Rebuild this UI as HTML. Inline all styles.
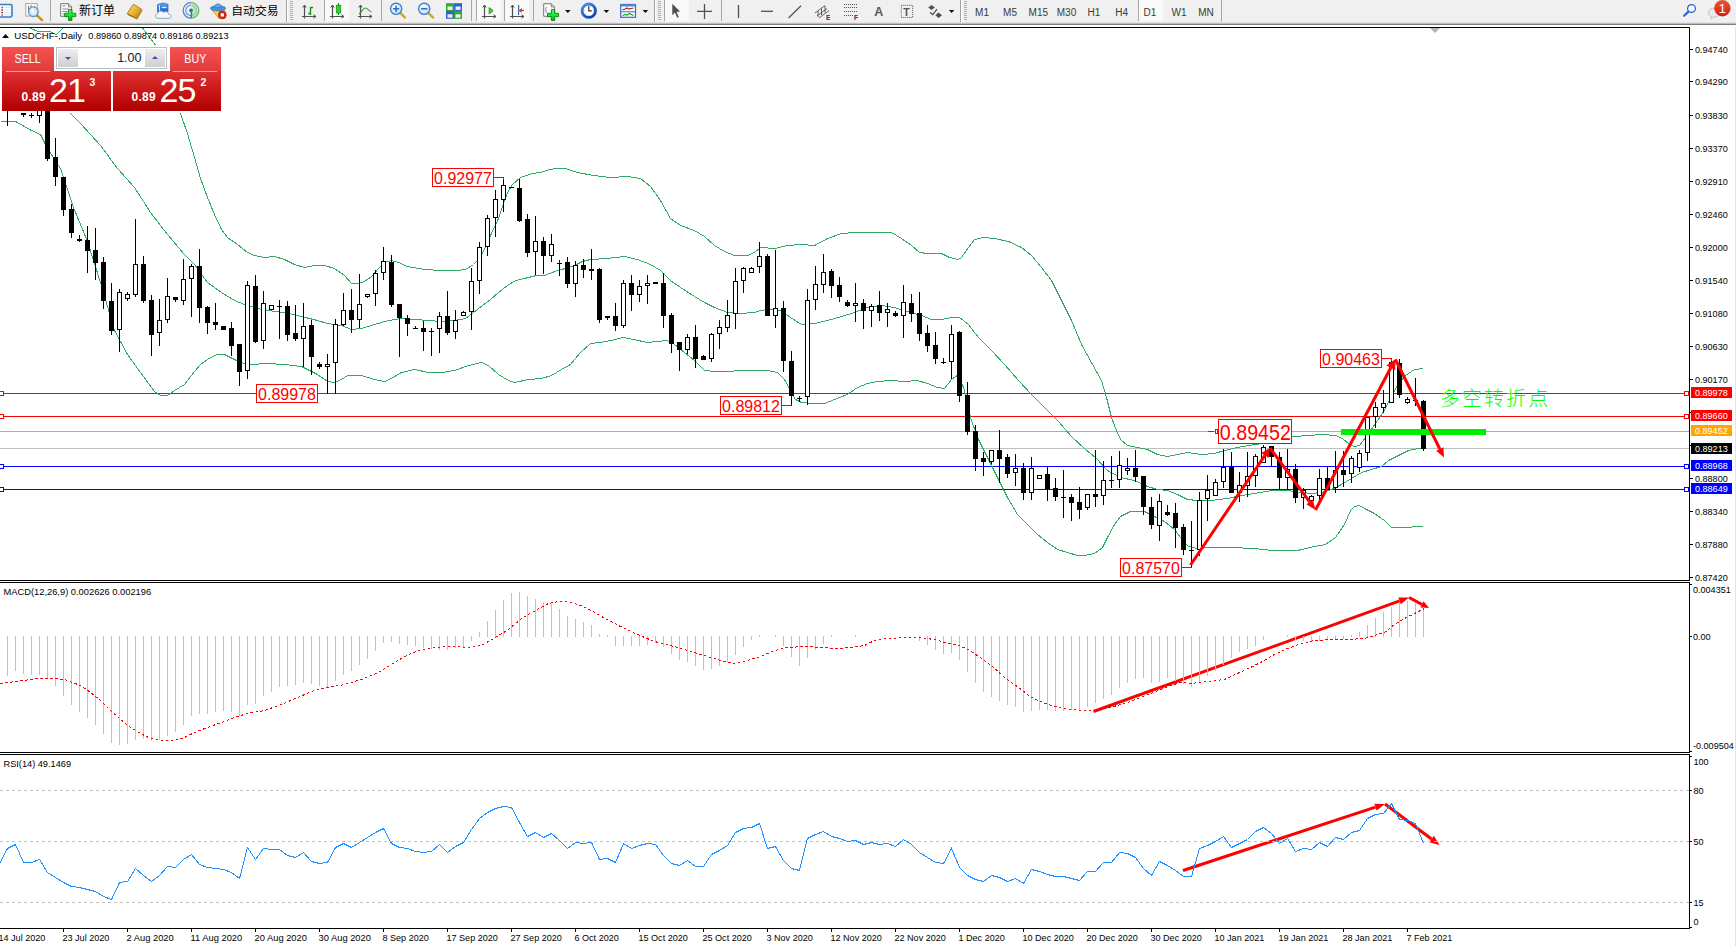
<!DOCTYPE html>
<html><head><meta charset="utf-8"><title>USDCHF Daily</title>
<style>
html,body{margin:0;padding:0;background:#fff;}
body{width:1736px;height:946px;overflow:hidden;position:relative;font-family:"Liberation Sans","Noto Sans CJK SC",sans-serif;}
#chart{position:absolute;left:0;top:0;}
#chart text{font-family:"Liberation Sans","Noto Sans CJK SC",sans-serif;}
#tb{position:absolute;left:0;top:0;width:1736px;height:27px;}
#tb text{font-family:"Liberation Sans","Noto Sans CJK SC",sans-serif;}
#wg{position:absolute;left:0;top:0;width:230px;height:115px;}
#wg .tab{position:absolute;top:47px;height:25px;background:linear-gradient(#f65252,#e23a3a);color:#fff;font-size:12px;text-align:center;line-height:24.5px;}
#wg .tab span{display:inline-block;transform:scaleX(0.89);}
#wg .blk{position:absolute;top:71px;height:40px;background:linear-gradient(#de3333,#c81414 55%,#b00000);}
#wg .hl{position:absolute;top:71px;height:1px;background:#f79a9a;}
#wg .inp{position:absolute;left:56px;top:47px;width:109px;height:20px;background:#fff;border:1px solid #b8bcc4;box-sizing:content-box;}
#wg .inp .b{position:absolute;top:1px;width:20px;height:18px;background:linear-gradient(#eeeeee,#cfcfcf);border-left:0;}
#wg .inp .b i{position:absolute;left:7px;width:0;height:0;border-left:3px solid transparent;border-right:3px solid transparent;}
#wg .inp .b i.dn{top:8px;border-top:3px solid #3a55b4;}
#wg .inp .b i.up{top:7px;border-bottom:3px solid #3a55b4;}
#wg .inp .v{position:absolute;right:24.5px;top:2.5px;font-size:12.5px;color:#111a33;line-height:14px;}
#wg .s{position:absolute;top:91.2px;letter-spacing:0.3px;font-size:12px;font-weight:bold;color:#fff;line-height:13px;}
#wg .L{position:absolute;top:72px;font-size:34px;color:#fff;line-height:36px;letter-spacing:-1px;}
#wg .p{position:absolute;top:76px;font-size:10.5px;font-weight:bold;color:#fff;line-height:12px;}

</style></head><body>
<svg id="chart" width="1736" height="946" viewBox="0 0 1736 946">
<g shape-rendering="crispEdges">
<rect x="0" y="393" width="1689" height="1" fill="#ff0000"/>
<rect x="0" y="416" width="1689" height="1" fill="#ff0000"/>
<rect x="0" y="431" width="1689" height="1" fill="#ffa500"/>
<rect x="0" y="448" width="1689" height="1" fill="#c0c0c0"/>
<rect x="0" y="466" width="1689" height="1" fill="#0000ff"/>
<rect x="0" y="489" width="1689" height="1" fill="#0000ff"/>
</g>
<g shape-rendering="crispEdges">
<polyline points="180.5,113.5 187.5,133.5 194.5,157.5 200.5,178.5 207.5,197.5 214.5,214.5 221.5,229.5 227.5,237.5 237.5,244.5 247.5,252.5 254.5,255.5 264.5,257.5 274.5,256.5 284.5,259.5 294.5,264.5 304.5,267.5 314.5,265.5 324.5,265.5 334.5,268.5 344.5,275.5 351.5,283.5 358.5,283.5 364.5,281.5 371.5,276.5 378.5,268.5 384.5,262.5 391.5,260.5 398.5,262.5 407.5,266.5 424.5,269.5 440.5,270.5 457.5,270.5 465.5,269.5 473.5,264.5 477.5,260.5 482.5,253.5 490.5,235.5 498.5,218.5 503.5,203.5 507.5,192.5 512.5,184.5 520.5,177.5 532.5,173.5 540.5,172.5 549.5,169.5 557.5,168.5 565.5,168.5 577.5,172.5 593.5,175.5 610.5,177.5 627.5,176.5 640.5,178.5 650.5,186.5 660.5,200.5 670.5,218.5 680.5,225.5 694.5,230.5 704.5,236.5 714.5,245.5 724.5,251.5 734.5,255.5 747.5,255.5 754.5,252.5 760.5,247.5 774.5,248.5 787.5,245.5 801.5,244.5 814.5,245.5 827.5,238.5 841.5,233.5 854.5,232.5 867.5,232.5 881.5,232.5 891.5,232.5 901.5,238.5 911.5,245.5 919.5,252.5 927.5,253.5 941.5,253.5 949.5,257.5 958.5,259.5 961.5,257.5 968.5,247.5 974.5,239.5 983.5,237.5 994.5,238.5 1008.5,241.5 1021.5,247.5 1031.5,255.5 1041.5,267.5 1051.5,280.5 1061.5,300.5 1071.5,320.5 1081.5,344.5 1091.5,362.5 1101.5,380.5 1106.5,397.5 1111.5,417.5 1116.5,430.5 1120.5,439.5 1127.5,445.5 1137.5,447.5 1147.5,449.5 1157.5,454.5 1167.5,456.5 1177.5,454.5 1187.5,452.5 1201.5,454.5 1214.5,453.5 1224.5,450.5 1237.5,447.5 1254.5,444.5 1264.5,443.5 1280.5,439.5 1294.5,436.5 1308.5,435.5 1321.5,434.5 1335.5,435.5 1342.5,438.5 1349.5,444.5 1354.5,446.5 1359.5,445.5 1365.5,437.5 1375.5,423.5 1384.5,410.5 1390.5,397.5 1397.5,385.5 1405.5,375.5 1414.5,369.5 1423.5,368.5" fill="none" stroke="#31ab67" stroke-width="1" />
<polyline points="70.5,113.5 80.5,123.5 100.5,145.5 117.5,168.5 134.5,187.5 150.5,212.5 167.5,234.5 184.5,254.5 194.5,264.5 207.5,282.5 221.5,292.5 234.5,300.5 244.5,304.5 257.5,308.5 267.5,310.5 284.5,312.5 301.5,316.5 317.5,320.5 327.5,323.5 341.5,325.5 351.5,329.5 361.5,328.5 374.5,324.5 388.5,320.5 401.5,318.5 414.5,319.5 428.5,320.5 441.5,321.5 454.5,320.5 465.5,318.5 473.5,312.5 482.5,305.5 490.5,299.5 498.5,292.5 507.5,285.5 515.5,280.5 524.5,278.5 536.5,275.5 544.5,275.5 549.5,273.5 557.5,270.5 565.5,268.5 574.5,265.5 582.5,261.5 590.5,259.5 607.5,258.5 615.5,257.5 624.5,256.5 637.5,259.5 650.5,264.5 660.5,270.5 670.5,280.5 680.5,287.5 694.5,296.5 704.5,302.5 714.5,307.5 727.5,312.5 740.5,313.5 754.5,312.5 760.5,310.5 767.5,309.5 780.5,310.5 790.5,317.5 801.5,324.5 814.5,323.5 827.5,320.5 841.5,316.5 854.5,312.5 867.5,307.5 881.5,305.5 894.5,307.5 907.5,311.5 921.5,315.5 931.5,319.5 941.5,319.5 951.5,317.5 959.5,317.5 968.5,324.5 978.5,337.5 991.5,350.5 1004.5,364.5 1018.5,380.5 1031.5,394.5 1044.5,407.5 1058.5,421.5 1071.5,436.5 1085.5,449.5 1095.5,457.5 1107.5,470.5 1120.5,477.5 1134.5,480.5 1147.5,486.5 1157.5,489.5 1167.5,490.5 1177.5,494.5 1187.5,499.5 1197.5,500.5 1211.5,500.5 1227.5,498.5 1241.5,495.5 1254.5,493.5 1271.5,490.5 1287.5,490.5 1301.5,492.5 1311.5,493.5 1321.5,492.5 1331.5,489.5 1341.5,484.5 1351.5,478.5 1361.5,472.5 1371.5,469.5 1381.5,466.5 1388.5,460.5 1398.5,455.5 1408.5,450.5 1418.5,448.5 1423.5,447.5" fill="none" stroke="#31ab67" stroke-width="1" />
<polyline points="0.5,121.5 15.5,121.5 31.5,130.5 40.5,134.5 47.5,148.5 60.5,168.5 73.5,207.5 87.5,241.5 100.5,282.5 114.5,330.5 127.5,354.5 140.5,372.5 154.5,391.5 160.5,395.5 167.5,395.5 174.5,390.5 184.5,384.5 194.5,371.5 200.5,364.5 210.5,357.5 217.5,354.5 224.5,354.5 230.5,357.5 240.5,362.5 251.5,364.5 267.5,363.5 284.5,364.5 301.5,366.5 317.5,374.5 327.5,381.5 334.5,382.5 341.5,379.5 347.5,375.5 361.5,375.5 374.5,379.5 384.5,381.5 391.5,378.5 401.5,372.5 414.5,369.5 428.5,372.5 441.5,372.5 454.5,370.5 468.5,365.5 481.5,362.5 488.5,365.5 498.5,374.5 508.5,380.5 514.5,382.5 528.5,379.5 541.5,378.5 551.5,375.5 561.5,369.5 570.5,364.5 580.5,352.5 590.5,343.5 600.5,342.5 610.5,340.5 623.5,337.5 633.5,339.5 647.5,342.5 657.5,341.5 667.5,340.5 674.5,344.5 684.5,352.5 694.5,360.5 704.5,370.5 714.5,371.5 727.5,371.5 740.5,370.5 754.5,370.5 767.5,370.5 777.5,372.5 784.5,379.5 790.5,390.5 795.5,399.5 801.5,402.5 814.5,403.5 824.5,403.5 834.5,399.5 847.5,394.5 857.5,387.5 867.5,383.5 877.5,381.5 891.5,380.5 904.5,381.5 917.5,380.5 927.5,383.5 937.5,387.5 944.5,388.5 951.5,379.5 958.5,374.5 964.5,390.5 970.5,417.5 977.5,437.5 987.5,457.5 997.5,477.5 1007.5,497.5 1017.5,514.5 1027.5,524.5 1037.5,534.5 1047.5,542.5 1057.5,549.5 1067.5,552.5 1077.5,555.5 1084.5,555.5 1094.5,553.5 1102.5,547.5 1107.5,537.5 1114.5,524.5 1120.5,516.5 1130.5,511.5 1144.5,511.5 1154.5,516.5 1164.5,521.5 1174.5,529.5 1180.5,537.5 1188.5,546.5 1197.5,548.5 1211.5,547.5 1230.5,547.5 1254.5,548.5 1272.5,550.5 1297.5,550.5 1314.5,546.5 1325.5,544.5 1335.5,537.5 1344.5,524.5 1350.5,510.5 1354.5,506.5 1359.5,505.5 1364.5,508.5 1374.5,513.5 1384.5,520.5 1391.5,527.5 1400.5,527.5 1423.5,526.5" fill="none" stroke="#31ab67" stroke-width="1" />
<polyline points="30.5,28.5 38.5,31.5 49.5,31.5 56.5,34.5 62.5,28.5" fill="none" stroke="#31ab67" stroke-width="1" />
<polyline points="142.5,28 155.5,45" fill="none" stroke="#31ab67" stroke-width="1" />
</g>
<polygon points="1430,28 1440,28 1435,33" fill="#b4b4b4"/>
<g shape-rendering="crispEdges">
<rect x="7" y="90" width="1" height="36" fill="#000"/>
<rect x="5" y="92" width="5" height="13" fill="#000"/>
<rect x="23" y="113" width="1" height="4" fill="#000"/>
<rect x="21" y="113" width="5" height="2" fill="#000"/>
<rect x="31" y="113" width="1" height="5" fill="#000"/>
<rect x="29" y="115" width="5" height="1" fill="#000"/>
<rect x="39" y="100" width="1" height="23" fill="#000"/>
<rect x="37" y="105" width="5" height="11" fill="#000"/>
<rect x="38" y="106" width="3" height="9" fill="#fff"/>
<rect x="47" y="100" width="1" height="61" fill="#000"/>
<rect x="45" y="100" width="5" height="59" fill="#000"/>
<rect x="55" y="138" width="1" height="48" fill="#000"/>
<rect x="53" y="157" width="5" height="20" fill="#000"/>
<rect x="63" y="177" width="1" height="39" fill="#000"/>
<rect x="61" y="177" width="5" height="33" fill="#000"/>
<rect x="71" y="204" width="1" height="34" fill="#000"/>
<rect x="69" y="209" width="5" height="24" fill="#000"/>
<rect x="79" y="235" width="1" height="7" fill="#000"/>
<rect x="77" y="239" width="5" height="2" fill="#000"/>
<rect x="87" y="226" width="1" height="47" fill="#000"/>
<rect x="85" y="240" width="5" height="11" fill="#000"/>
<rect x="95" y="228" width="1" height="52" fill="#000"/>
<rect x="93" y="250" width="5" height="13" fill="#000"/>
<rect x="103" y="257" width="1" height="52" fill="#000"/>
<rect x="101" y="262" width="5" height="39" fill="#000"/>
<rect x="111" y="283" width="1" height="52" fill="#000"/>
<rect x="109" y="301" width="5" height="30" fill="#000"/>
<rect x="119" y="289" width="1" height="63" fill="#000"/>
<rect x="117" y="292" width="5" height="38" fill="#000"/>
<rect x="118" y="293" width="3" height="36" fill="#fff"/>
<rect x="127" y="292" width="1" height="9" fill="#000"/>
<rect x="125" y="294" width="5" height="5" fill="#000"/>
<rect x="126" y="295" width="3" height="3" fill="#fff"/>
<rect x="135" y="219" width="1" height="78" fill="#000"/>
<rect x="133" y="264" width="5" height="31" fill="#000"/>
<rect x="134" y="265" width="3" height="29" fill="#fff"/>
<rect x="143" y="256" width="1" height="47" fill="#000"/>
<rect x="141" y="264" width="5" height="37" fill="#000"/>
<rect x="151" y="295" width="1" height="61" fill="#000"/>
<rect x="149" y="300" width="5" height="35" fill="#000"/>
<rect x="159" y="299" width="1" height="47" fill="#000"/>
<rect x="157" y="320" width="5" height="13" fill="#000"/>
<rect x="158" y="321" width="3" height="11" fill="#fff"/>
<rect x="167" y="278" width="1" height="45" fill="#000"/>
<rect x="165" y="296" width="5" height="24" fill="#000"/>
<rect x="166" y="297" width="3" height="22" fill="#fff"/>
<rect x="175" y="297" width="1" height="5" fill="#000"/>
<rect x="173" y="297" width="5" height="3" fill="#000"/>
<rect x="183" y="259" width="1" height="46" fill="#000"/>
<rect x="181" y="279" width="5" height="22" fill="#000"/>
<rect x="182" y="280" width="3" height="20" fill="#fff"/>
<rect x="191" y="264" width="1" height="53" fill="#000"/>
<rect x="189" y="266" width="5" height="13" fill="#000"/>
<rect x="190" y="267" width="3" height="11" fill="#fff"/>
<rect x="199" y="249" width="1" height="74" fill="#000"/>
<rect x="197" y="266" width="5" height="42" fill="#000"/>
<rect x="207" y="306" width="1" height="28" fill="#000"/>
<rect x="205" y="307" width="5" height="16" fill="#000"/>
<rect x="215" y="303" width="1" height="27" fill="#000"/>
<rect x="213" y="322" width="5" height="3" fill="#000"/>
<rect x="223" y="326" width="1" height="4" fill="#000"/>
<rect x="221" y="326" width="5" height="4" fill="#000"/>
<rect x="231" y="322" width="1" height="34" fill="#000"/>
<rect x="229" y="328" width="5" height="18" fill="#000"/>
<rect x="239" y="344" width="1" height="42" fill="#000"/>
<rect x="237" y="344" width="5" height="28" fill="#000"/>
<rect x="247" y="281" width="1" height="98" fill="#000"/>
<rect x="245" y="285" width="5" height="86" fill="#000"/>
<rect x="246" y="286" width="3" height="84" fill="#fff"/>
<rect x="255" y="275" width="1" height="68" fill="#000"/>
<rect x="253" y="286" width="5" height="56" fill="#000"/>
<rect x="263" y="291" width="1" height="58" fill="#000"/>
<rect x="261" y="303" width="5" height="38" fill="#000"/>
<rect x="262" y="304" width="3" height="36" fill="#fff"/>
<rect x="271" y="305" width="1" height="5" fill="#000"/>
<rect x="269" y="305" width="5" height="5" fill="#000"/>
<rect x="270" y="306" width="3" height="3" fill="#fff"/>
<rect x="279" y="300" width="1" height="39" fill="#000"/>
<rect x="277" y="306" width="5" height="1" fill="#000"/>
<rect x="287" y="301" width="1" height="40" fill="#000"/>
<rect x="285" y="306" width="5" height="29" fill="#000"/>
<rect x="295" y="305" width="1" height="36" fill="#000"/>
<rect x="293" y="333" width="5" height="6" fill="#000"/>
<rect x="303" y="303" width="1" height="64" fill="#000"/>
<rect x="301" y="326" width="5" height="13" fill="#000"/>
<rect x="302" y="327" width="3" height="11" fill="#fff"/>
<rect x="311" y="320" width="1" height="55" fill="#000"/>
<rect x="309" y="325" width="5" height="32" fill="#000"/>
<rect x="319" y="362" width="1" height="7" fill="#000"/>
<rect x="317" y="364" width="5" height="3" fill="#000"/>
<rect x="327" y="354" width="1" height="40" fill="#000"/>
<rect x="325" y="364" width="5" height="3" fill="#000"/>
<rect x="326" y="365" width="3" height="1" fill="#fff"/>
<rect x="335" y="319" width="1" height="75" fill="#000"/>
<rect x="333" y="324" width="5" height="39" fill="#000"/>
<rect x="334" y="325" width="3" height="37" fill="#fff"/>
<rect x="343" y="293" width="1" height="33" fill="#000"/>
<rect x="341" y="310" width="5" height="15" fill="#000"/>
<rect x="342" y="311" width="3" height="13" fill="#fff"/>
<rect x="351" y="289" width="1" height="44" fill="#000"/>
<rect x="349" y="310" width="5" height="10" fill="#000"/>
<rect x="359" y="274" width="1" height="54" fill="#000"/>
<rect x="357" y="304" width="5" height="16" fill="#000"/>
<rect x="358" y="305" width="3" height="14" fill="#fff"/>
<rect x="367" y="294" width="1" height="4" fill="#000"/>
<rect x="365" y="294" width="5" height="3" fill="#000"/>
<rect x="366" y="295" width="3" height="1" fill="#fff"/>
<rect x="375" y="270" width="1" height="36" fill="#000"/>
<rect x="373" y="273" width="5" height="21" fill="#000"/>
<rect x="374" y="274" width="3" height="19" fill="#fff"/>
<rect x="383" y="247" width="1" height="33" fill="#000"/>
<rect x="381" y="261" width="5" height="12" fill="#000"/>
<rect x="382" y="262" width="3" height="10" fill="#fff"/>
<rect x="391" y="255" width="1" height="52" fill="#000"/>
<rect x="389" y="262" width="5" height="43" fill="#000"/>
<rect x="399" y="304" width="1" height="53" fill="#000"/>
<rect x="397" y="304" width="5" height="14" fill="#000"/>
<rect x="407" y="315" width="1" height="21" fill="#000"/>
<rect x="405" y="318" width="5" height="6" fill="#000"/>
<rect x="415" y="326" width="1" height="3" fill="#000"/>
<rect x="413" y="328" width="5" height="1" fill="#000"/>
<rect x="423" y="321" width="1" height="30" fill="#000"/>
<rect x="421" y="328" width="5" height="4" fill="#000"/>
<rect x="431" y="328" width="1" height="28" fill="#000"/>
<rect x="429" y="331" width="5" height="1" fill="#000"/>
<rect x="439" y="312" width="1" height="41" fill="#000"/>
<rect x="437" y="316" width="5" height="13" fill="#000"/>
<rect x="438" y="317" width="3" height="11" fill="#fff"/>
<rect x="447" y="291" width="1" height="44" fill="#000"/>
<rect x="445" y="316" width="5" height="17" fill="#000"/>
<rect x="455" y="310" width="1" height="29" fill="#000"/>
<rect x="453" y="320" width="5" height="12" fill="#000"/>
<rect x="454" y="321" width="3" height="10" fill="#fff"/>
<rect x="463" y="311" width="1" height="5" fill="#000"/>
<rect x="461" y="312" width="5" height="4" fill="#000"/>
<rect x="462" y="313" width="3" height="2" fill="#fff"/>
<rect x="471" y="268" width="1" height="62" fill="#000"/>
<rect x="469" y="281" width="5" height="31" fill="#000"/>
<rect x="470" y="282" width="3" height="29" fill="#fff"/>
<rect x="479" y="242" width="1" height="52" fill="#000"/>
<rect x="477" y="247" width="5" height="34" fill="#000"/>
<rect x="478" y="248" width="3" height="32" fill="#fff"/>
<rect x="487" y="215" width="1" height="41" fill="#000"/>
<rect x="485" y="218" width="5" height="29" fill="#000"/>
<rect x="486" y="219" width="3" height="27" fill="#fff"/>
<rect x="495" y="190" width="1" height="47" fill="#000"/>
<rect x="493" y="199" width="5" height="19" fill="#000"/>
<rect x="494" y="200" width="3" height="17" fill="#fff"/>
<rect x="503" y="177" width="1" height="35" fill="#000"/>
<rect x="501" y="185" width="5" height="15" fill="#000"/>
<rect x="502" y="186" width="3" height="13" fill="#fff"/>
<rect x="511" y="187" width="1" height="1" fill="#000"/>
<rect x="509" y="187" width="5" height="1" fill="#000"/>
<rect x="519" y="179" width="1" height="43" fill="#000"/>
<rect x="517" y="188" width="5" height="33" fill="#000"/>
<rect x="527" y="214" width="1" height="43" fill="#000"/>
<rect x="525" y="219" width="5" height="34" fill="#000"/>
<rect x="535" y="216" width="1" height="59" fill="#000"/>
<rect x="533" y="241" width="5" height="11" fill="#000"/>
<rect x="534" y="242" width="3" height="9" fill="#fff"/>
<rect x="543" y="237" width="1" height="37" fill="#000"/>
<rect x="541" y="241" width="5" height="15" fill="#000"/>
<rect x="551" y="234" width="1" height="28" fill="#000"/>
<rect x="549" y="244" width="5" height="12" fill="#000"/>
<rect x="550" y="245" width="3" height="10" fill="#fff"/>
<rect x="559" y="260" width="1" height="16" fill="#000"/>
<rect x="557" y="263" width="5" height="1" fill="#000"/>
<rect x="567" y="257" width="1" height="31" fill="#000"/>
<rect x="565" y="262" width="5" height="22" fill="#000"/>
<rect x="575" y="261" width="1" height="36" fill="#000"/>
<rect x="573" y="265" width="5" height="19" fill="#000"/>
<rect x="574" y="266" width="3" height="17" fill="#fff"/>
<rect x="583" y="259" width="1" height="19" fill="#000"/>
<rect x="581" y="265" width="5" height="5" fill="#000"/>
<rect x="591" y="249" width="1" height="31" fill="#000"/>
<rect x="589" y="269" width="5" height="2" fill="#000"/>
<rect x="599" y="268" width="1" height="55" fill="#000"/>
<rect x="597" y="269" width="5" height="51" fill="#000"/>
<rect x="607" y="316" width="1" height="4" fill="#000"/>
<rect x="605" y="316" width="5" height="2" fill="#000"/>
<rect x="615" y="303" width="1" height="28" fill="#000"/>
<rect x="613" y="316" width="5" height="10" fill="#000"/>
<rect x="623" y="280" width="1" height="48" fill="#000"/>
<rect x="621" y="283" width="5" height="43" fill="#000"/>
<rect x="622" y="284" width="3" height="41" fill="#fff"/>
<rect x="631" y="275" width="1" height="36" fill="#000"/>
<rect x="629" y="283" width="5" height="12" fill="#000"/>
<rect x="639" y="280" width="1" height="22" fill="#000"/>
<rect x="637" y="286" width="5" height="9" fill="#000"/>
<rect x="638" y="287" width="3" height="7" fill="#fff"/>
<rect x="647" y="275" width="1" height="29" fill="#000"/>
<rect x="645" y="283" width="5" height="3" fill="#000"/>
<rect x="646" y="284" width="3" height="1" fill="#fff"/>
<rect x="655" y="282" width="1" height="2" fill="#000"/>
<rect x="653" y="282" width="5" height="2" fill="#000"/>
<rect x="663" y="273" width="1" height="55" fill="#000"/>
<rect x="661" y="283" width="5" height="33" fill="#000"/>
<rect x="671" y="313" width="1" height="40" fill="#000"/>
<rect x="669" y="315" width="5" height="29" fill="#000"/>
<rect x="679" y="342" width="1" height="29" fill="#000"/>
<rect x="677" y="342" width="5" height="8" fill="#000"/>
<rect x="687" y="334" width="1" height="20" fill="#000"/>
<rect x="685" y="337" width="5" height="13" fill="#000"/>
<rect x="686" y="338" width="3" height="11" fill="#fff"/>
<rect x="695" y="325" width="1" height="43" fill="#000"/>
<rect x="693" y="337" width="5" height="22" fill="#000"/>
<rect x="703" y="355" width="1" height="5" fill="#000"/>
<rect x="701" y="356" width="5" height="4" fill="#000"/>
<rect x="711" y="333" width="1" height="29" fill="#000"/>
<rect x="709" y="334" width="5" height="25" fill="#000"/>
<rect x="710" y="335" width="3" height="23" fill="#fff"/>
<rect x="719" y="320" width="1" height="29" fill="#000"/>
<rect x="717" y="327" width="5" height="7" fill="#000"/>
<rect x="718" y="328" width="3" height="5" fill="#fff"/>
<rect x="727" y="300" width="1" height="32" fill="#000"/>
<rect x="725" y="315" width="5" height="13" fill="#000"/>
<rect x="726" y="316" width="3" height="11" fill="#fff"/>
<rect x="735" y="268" width="1" height="61" fill="#000"/>
<rect x="733" y="281" width="5" height="33" fill="#000"/>
<rect x="734" y="282" width="3" height="31" fill="#fff"/>
<rect x="743" y="267" width="1" height="26" fill="#000"/>
<rect x="741" y="268" width="5" height="13" fill="#000"/>
<rect x="742" y="269" width="3" height="11" fill="#fff"/>
<rect x="751" y="267" width="1" height="6" fill="#000"/>
<rect x="749" y="268" width="5" height="5" fill="#000"/>
<rect x="750" y="269" width="3" height="3" fill="#fff"/>
<rect x="759" y="242" width="1" height="31" fill="#000"/>
<rect x="757" y="256" width="5" height="11" fill="#000"/>
<rect x="758" y="257" width="3" height="9" fill="#fff"/>
<rect x="767" y="254" width="1" height="62" fill="#000"/>
<rect x="765" y="256" width="5" height="60" fill="#000"/>
<rect x="775" y="250" width="1" height="78" fill="#000"/>
<rect x="773" y="308" width="5" height="8" fill="#000"/>
<rect x="774" y="309" width="3" height="6" fill="#fff"/>
<rect x="783" y="301" width="1" height="71" fill="#000"/>
<rect x="781" y="308" width="5" height="53" fill="#000"/>
<rect x="791" y="351" width="1" height="55" fill="#000"/>
<rect x="789" y="361" width="5" height="35" fill="#000"/>
<rect x="799" y="396" width="1" height="6" fill="#000"/>
<rect x="797" y="398" width="5" height="1" fill="#000"/>
<rect x="807" y="289" width="1" height="116" fill="#000"/>
<rect x="805" y="300" width="5" height="97" fill="#000"/>
<rect x="806" y="301" width="3" height="95" fill="#fff"/>
<rect x="815" y="266" width="1" height="44" fill="#000"/>
<rect x="813" y="284" width="5" height="16" fill="#000"/>
<rect x="814" y="285" width="3" height="14" fill="#fff"/>
<rect x="823" y="254" width="1" height="39" fill="#000"/>
<rect x="821" y="272" width="5" height="13" fill="#000"/>
<rect x="822" y="273" width="3" height="11" fill="#fff"/>
<rect x="831" y="269" width="1" height="29" fill="#000"/>
<rect x="829" y="271" width="5" height="15" fill="#000"/>
<rect x="839" y="277" width="1" height="25" fill="#000"/>
<rect x="837" y="285" width="5" height="12" fill="#000"/>
<rect x="847" y="300" width="1" height="7" fill="#000"/>
<rect x="845" y="302" width="5" height="4" fill="#000"/>
<rect x="855" y="283" width="1" height="39" fill="#000"/>
<rect x="853" y="303" width="5" height="3" fill="#000"/>
<rect x="854" y="304" width="3" height="1" fill="#fff"/>
<rect x="863" y="299" width="1" height="30" fill="#000"/>
<rect x="861" y="303" width="5" height="8" fill="#000"/>
<rect x="871" y="304" width="1" height="23" fill="#000"/>
<rect x="869" y="306" width="5" height="5" fill="#000"/>
<rect x="870" y="307" width="3" height="3" fill="#fff"/>
<rect x="879" y="291" width="1" height="30" fill="#000"/>
<rect x="877" y="305" width="5" height="8" fill="#000"/>
<rect x="887" y="303" width="1" height="24" fill="#000"/>
<rect x="885" y="309" width="5" height="4" fill="#000"/>
<rect x="886" y="310" width="3" height="2" fill="#fff"/>
<rect x="895" y="311" width="1" height="6" fill="#000"/>
<rect x="893" y="313" width="5" height="3" fill="#000"/>
<rect x="903" y="285" width="1" height="53" fill="#000"/>
<rect x="901" y="302" width="5" height="14" fill="#000"/>
<rect x="902" y="303" width="3" height="12" fill="#fff"/>
<rect x="911" y="294" width="1" height="28" fill="#000"/>
<rect x="909" y="303" width="5" height="11" fill="#000"/>
<rect x="919" y="292" width="1" height="49" fill="#000"/>
<rect x="917" y="313" width="5" height="21" fill="#000"/>
<rect x="927" y="325" width="1" height="27" fill="#000"/>
<rect x="925" y="333" width="5" height="13" fill="#000"/>
<rect x="935" y="332" width="1" height="32" fill="#000"/>
<rect x="933" y="345" width="5" height="14" fill="#000"/>
<rect x="943" y="358" width="1" height="6" fill="#000"/>
<rect x="941" y="362" width="5" height="1" fill="#000"/>
<rect x="951" y="325" width="1" height="54" fill="#000"/>
<rect x="949" y="334" width="5" height="28" fill="#000"/>
<rect x="950" y="335" width="3" height="26" fill="#fff"/>
<rect x="959" y="331" width="1" height="71" fill="#000"/>
<rect x="957" y="332" width="5" height="64" fill="#000"/>
<rect x="967" y="382" width="1" height="53" fill="#000"/>
<rect x="965" y="395" width="5" height="37" fill="#000"/>
<rect x="975" y="425" width="1" height="46" fill="#000"/>
<rect x="973" y="431" width="5" height="28" fill="#000"/>
<rect x="983" y="452" width="1" height="24" fill="#000"/>
<rect x="981" y="458" width="5" height="4" fill="#000"/>
<rect x="991" y="450" width="1" height="14" fill="#000"/>
<rect x="989" y="450" width="5" height="12" fill="#000"/>
<rect x="990" y="451" width="3" height="10" fill="#fff"/>
<rect x="999" y="430" width="1" height="53" fill="#000"/>
<rect x="997" y="450" width="5" height="9" fill="#000"/>
<rect x="1007" y="454" width="1" height="24" fill="#000"/>
<rect x="1005" y="457" width="5" height="17" fill="#000"/>
<rect x="1015" y="454" width="1" height="32" fill="#000"/>
<rect x="1013" y="468" width="5" height="5" fill="#000"/>
<rect x="1014" y="469" width="3" height="3" fill="#fff"/>
<rect x="1023" y="463" width="1" height="37" fill="#000"/>
<rect x="1021" y="468" width="5" height="25" fill="#000"/>
<rect x="1031" y="457" width="1" height="43" fill="#000"/>
<rect x="1029" y="468" width="5" height="25" fill="#000"/>
<rect x="1030" y="469" width="3" height="23" fill="#fff"/>
<rect x="1039" y="475" width="1" height="4" fill="#000"/>
<rect x="1037" y="475" width="5" height="4" fill="#000"/>
<rect x="1038" y="476" width="3" height="2" fill="#fff"/>
<rect x="1047" y="467" width="1" height="34" fill="#000"/>
<rect x="1045" y="474" width="5" height="15" fill="#000"/>
<rect x="1055" y="478" width="1" height="23" fill="#000"/>
<rect x="1053" y="488" width="5" height="9" fill="#000"/>
<rect x="1063" y="470" width="1" height="48" fill="#000"/>
<rect x="1061" y="497" width="5" height="1" fill="#000"/>
<rect x="1071" y="494" width="1" height="27" fill="#000"/>
<rect x="1069" y="497" width="5" height="6" fill="#000"/>
<rect x="1079" y="487" width="1" height="32" fill="#000"/>
<rect x="1077" y="502" width="5" height="8" fill="#000"/>
<rect x="1087" y="494" width="1" height="16" fill="#000"/>
<rect x="1085" y="494" width="5" height="14" fill="#000"/>
<rect x="1086" y="495" width="3" height="12" fill="#fff"/>
<rect x="1095" y="450" width="1" height="57" fill="#000"/>
<rect x="1093" y="494" width="5" height="3" fill="#000"/>
<rect x="1103" y="461" width="1" height="44" fill="#000"/>
<rect x="1101" y="480" width="5" height="16" fill="#000"/>
<rect x="1102" y="481" width="3" height="14" fill="#fff"/>
<rect x="1111" y="456" width="1" height="32" fill="#000"/>
<rect x="1109" y="480" width="5" height="1" fill="#000"/>
<rect x="1119" y="451" width="1" height="37" fill="#000"/>
<rect x="1117" y="465" width="5" height="15" fill="#000"/>
<rect x="1118" y="466" width="3" height="13" fill="#fff"/>
<rect x="1127" y="458" width="1" height="17" fill="#000"/>
<rect x="1125" y="468" width="5" height="3" fill="#000"/>
<rect x="1126" y="469" width="3" height="1" fill="#fff"/>
<rect x="1135" y="450" width="1" height="32" fill="#000"/>
<rect x="1133" y="468" width="5" height="9" fill="#000"/>
<rect x="1143" y="476" width="1" height="39" fill="#000"/>
<rect x="1141" y="476" width="5" height="31" fill="#000"/>
<rect x="1151" y="497" width="1" height="32" fill="#000"/>
<rect x="1149" y="507" width="5" height="18" fill="#000"/>
<rect x="1159" y="494" width="1" height="47" fill="#000"/>
<rect x="1157" y="501" width="5" height="25" fill="#000"/>
<rect x="1158" y="502" width="3" height="23" fill="#fff"/>
<rect x="1167" y="505" width="1" height="11" fill="#000"/>
<rect x="1165" y="512" width="5" height="3" fill="#000"/>
<rect x="1175" y="503" width="1" height="45" fill="#000"/>
<rect x="1173" y="513" width="5" height="15" fill="#000"/>
<rect x="1183" y="524" width="1" height="31" fill="#000"/>
<rect x="1181" y="527" width="5" height="23" fill="#000"/>
<rect x="1191" y="521" width="1" height="47" fill="#000"/>
<rect x="1189" y="550" width="5" height="1" fill="#000"/>
<rect x="1199" y="492" width="1" height="64" fill="#000"/>
<rect x="1197" y="500" width="5" height="50" fill="#000"/>
<rect x="1198" y="501" width="3" height="48" fill="#fff"/>
<rect x="1207" y="475" width="1" height="46" fill="#000"/>
<rect x="1205" y="490" width="5" height="9" fill="#000"/>
<rect x="1206" y="491" width="3" height="7" fill="#fff"/>
<rect x="1215" y="479" width="1" height="17" fill="#000"/>
<rect x="1213" y="482" width="5" height="14" fill="#000"/>
<rect x="1214" y="483" width="3" height="12" fill="#fff"/>
<rect x="1223" y="449" width="1" height="39" fill="#000"/>
<rect x="1221" y="467" width="5" height="15" fill="#000"/>
<rect x="1222" y="468" width="3" height="13" fill="#fff"/>
<rect x="1231" y="452" width="1" height="41" fill="#000"/>
<rect x="1229" y="467" width="5" height="26" fill="#000"/>
<rect x="1239" y="472" width="1" height="30" fill="#000"/>
<rect x="1237" y="485" width="5" height="8" fill="#000"/>
<rect x="1238" y="486" width="3" height="6" fill="#fff"/>
<rect x="1247" y="452" width="1" height="45" fill="#000"/>
<rect x="1245" y="476" width="5" height="10" fill="#000"/>
<rect x="1246" y="477" width="3" height="8" fill="#fff"/>
<rect x="1255" y="454" width="1" height="33" fill="#000"/>
<rect x="1253" y="456" width="5" height="20" fill="#000"/>
<rect x="1254" y="457" width="3" height="18" fill="#fff"/>
<rect x="1263" y="445" width="1" height="18" fill="#000"/>
<rect x="1261" y="447" width="5" height="16" fill="#000"/>
<rect x="1262" y="448" width="3" height="14" fill="#fff"/>
<rect x="1271" y="446" width="1" height="20" fill="#000"/>
<rect x="1269" y="446" width="5" height="11" fill="#000"/>
<rect x="1279" y="452" width="1" height="38" fill="#000"/>
<rect x="1277" y="457" width="5" height="21" fill="#000"/>
<rect x="1287" y="449" width="1" height="40" fill="#000"/>
<rect x="1285" y="469" width="5" height="9" fill="#000"/>
<rect x="1286" y="470" width="3" height="7" fill="#fff"/>
<rect x="1295" y="464" width="1" height="39" fill="#000"/>
<rect x="1293" y="469" width="5" height="29" fill="#000"/>
<rect x="1303" y="488" width="1" height="21" fill="#000"/>
<rect x="1301" y="490" width="5" height="8" fill="#000"/>
<rect x="1302" y="491" width="3" height="6" fill="#fff"/>
<rect x="1311" y="495" width="1" height="6" fill="#000"/>
<rect x="1309" y="496" width="5" height="5" fill="#000"/>
<rect x="1310" y="497" width="3" height="3" fill="#fff"/>
<rect x="1319" y="469" width="1" height="31" fill="#000"/>
<rect x="1317" y="478" width="5" height="18" fill="#000"/>
<rect x="1318" y="479" width="3" height="16" fill="#fff"/>
<rect x="1327" y="467" width="1" height="22" fill="#000"/>
<rect x="1325" y="478" width="5" height="11" fill="#000"/>
<rect x="1335" y="451" width="1" height="42" fill="#000"/>
<rect x="1333" y="470" width="5" height="18" fill="#000"/>
<rect x="1334" y="471" width="3" height="16" fill="#fff"/>
<rect x="1343" y="451" width="1" height="36" fill="#000"/>
<rect x="1341" y="470" width="5" height="5" fill="#000"/>
<rect x="1351" y="456" width="1" height="27" fill="#000"/>
<rect x="1349" y="458" width="5" height="16" fill="#000"/>
<rect x="1350" y="459" width="3" height="14" fill="#fff"/>
<rect x="1359" y="450" width="1" height="22" fill="#000"/>
<rect x="1357" y="453" width="5" height="15" fill="#000"/>
<rect x="1358" y="454" width="3" height="13" fill="#fff"/>
<rect x="1367" y="417" width="1" height="44" fill="#000"/>
<rect x="1365" y="417" width="5" height="36" fill="#000"/>
<rect x="1366" y="418" width="3" height="34" fill="#fff"/>
<rect x="1375" y="402" width="1" height="26" fill="#000"/>
<rect x="1373" y="407" width="5" height="10" fill="#000"/>
<rect x="1374" y="408" width="3" height="8" fill="#fff"/>
<rect x="1383" y="390" width="1" height="23" fill="#000"/>
<rect x="1381" y="403" width="5" height="5" fill="#000"/>
<rect x="1382" y="404" width="3" height="3" fill="#fff"/>
<rect x="1391" y="359" width="1" height="44" fill="#000"/>
<rect x="1389" y="362" width="5" height="41" fill="#000"/>
<rect x="1390" y="363" width="3" height="39" fill="#fff"/>
<rect x="1399" y="359" width="1" height="39" fill="#000"/>
<rect x="1397" y="363" width="5" height="32" fill="#000"/>
<rect x="1407" y="397" width="1" height="7" fill="#000"/>
<rect x="1405" y="399" width="5" height="4" fill="#000"/>
<rect x="1406" y="400" width="3" height="2" fill="#fff"/>
<rect x="1415" y="378" width="1" height="28" fill="#000"/>
<rect x="1413" y="400" width="5" height="1" fill="#000"/>
<rect x="1423" y="400" width="1" height="51" fill="#000"/>
<rect x="1421" y="401" width="5" height="48" fill="#000"/>
</g>
<g shape-rendering="crispEdges">
<rect x="-0.5" y="391.5" width="4" height="4" fill="#fff" stroke="#ff0000" stroke-width="1"/>
<rect x="1684.5" y="391.5" width="4" height="4" fill="#fff" stroke="#ff0000" stroke-width="1"/>
<rect x="-0.5" y="414.5" width="4" height="4" fill="#fff" stroke="#ff0000" stroke-width="1"/>
<rect x="1684.5" y="414.5" width="4" height="4" fill="#fff" stroke="#ff0000" stroke-width="1"/>
<rect x="-0.5" y="464.5" width="4" height="4" fill="#fff" stroke="#0000ff" stroke-width="1"/>
<rect x="1684.5" y="464.5" width="4" height="4" fill="#fff" stroke="#0000ff" stroke-width="1"/>
<rect x="-0.5" y="487.5" width="4" height="4" fill="#fff" stroke="#0000ff" stroke-width="1"/>
<rect x="1684.5" y="487.5" width="4" height="4" fill="#fff" stroke="#0000ff" stroke-width="1"/>
</g>
<rect x="1341" y="429" width="145" height="6" fill="#00ee00" shape-rendering="crispEdges"/>
<g shape-rendering="crispEdges" fill="none" stroke="#ff0000" stroke-width="1">
<polyline points="494,177.5 503.5,177.5 503.5,180"/>
<polyline points="782,405.5 791.5,405.5"/>
<polyline points="1182,567.5 1191.5,567.5"/>
<polyline points="1382,358.5 1391.5,358.5 1391.5,361"/>
<polyline points="1208,431.5 1214,431.5"/>
<rect x="1215.5" y="429.5" width="2" height="4" fill="#fff"/>
</g>
<rect x="432.5" y="168.5" width="61" height="18" fill="#fff" stroke="#ff0000" stroke-width="1" shape-rendering="crispEdges"/>
<text transform="translate(434.1,184) scale(0.94,1)" font-size="17" fill="#ff0000" text-anchor="start" font-weight="normal" >0.92977</text>
<rect x="256.5" y="384.5" width="61" height="18" fill="#fff" stroke="#ff0000" stroke-width="1" shape-rendering="crispEdges"/>
<text transform="translate(258.1,400) scale(0.94,1)" font-size="17" fill="#ff0000" text-anchor="start" font-weight="normal" >0.89978</text>
<rect x="720.5" y="396.5" width="61" height="18" fill="#fff" stroke="#ff0000" stroke-width="1" shape-rendering="crispEdges"/>
<text transform="translate(722.1,412) scale(0.94,1)" font-size="17" fill="#ff0000" text-anchor="start" font-weight="normal" >0.89812</text>
<rect x="1120.5" y="558.5" width="61" height="18" fill="#fff" stroke="#ff0000" stroke-width="1" shape-rendering="crispEdges"/>
<text transform="translate(1122.1,574) scale(0.94,1)" font-size="17" fill="#ff0000" text-anchor="start" font-weight="normal" >0.87570</text>
<rect x="1320.5" y="349.5" width="61" height="18" fill="#fff" stroke="#ff0000" stroke-width="1" shape-rendering="crispEdges"/>
<text transform="translate(1322.1,365) scale(0.94,1)" font-size="17" fill="#ff0000" text-anchor="start" font-weight="normal" >0.90463</text>
<rect x="1218.5" y="419.5" width="73" height="24" fill="#fff" stroke="#ff0000" stroke-width="1" shape-rendering="crispEdges"/>
<text transform="translate(1219.8,440) scale(0.875,1)" font-size="22.5" fill="#ff0000" text-anchor="start" font-weight="normal" >0.89452</text>
<text x="1439.8" y="406.3" font-size="19.9" letter-spacing="2.2" fill="#00ff00" style="font-family:'Liberation Sans','Noto Sans CJK SC',sans-serif;font-weight:300">多空转折点</text>
<line x1="1190.5" y1="565.0" x2="1264.9" y2="455.4" stroke="#ff0000" stroke-width="3" stroke-linecap="butt"/>
<polygon points="1270.0,448.0 1268.7,458.0 1261.2,452.9" fill="#ff0000"/>
<line x1="1270.0" y1="448.0" x2="1309.6" y2="501.9" stroke="#ff0000" stroke-width="3" stroke-linecap="butt"/>
<polygon points="1315.5,510.0 1306.4,504.3 1312.8,499.6" fill="#ff0000"/>
<line x1="1315.5" y1="510.0" x2="1390.8" y2="367.8" stroke="#ff0000" stroke-width="3" stroke-linecap="butt"/>
<polygon points="1395.5,359.0 1395.2,370.2 1386.4,365.5" fill="#ff0000"/>
<line x1="1395.5" y1="359.5" x2="1439.8" y2="449.0" stroke="#ff0000" stroke-width="3" stroke-linecap="butt"/>
<polygon points="1444.0,457.5 1436.2,450.8 1443.4,447.2" fill="#ff0000"/>
<line x1="1093.5" y1="711.5" x2="1399.6" y2="600.9" stroke="#ff0000" stroke-width="3" stroke-linecap="butt"/>
<polygon points="1409.0,597.5 1400.8,604.2 1398.4,597.6" fill="#ff0000"/>
<line x1="1409.0" y1="597.5" x2="1421.9" y2="604.3" stroke="#ff0000" stroke-width="3" stroke-linecap="butt"/>
<polygon points="1429.0,608.0 1420.3,607.4 1423.5,601.2" fill="#ff0000"/>
<line x1="1183.0" y1="870.5" x2="1375.5" y2="807.1" stroke="#ff0000" stroke-width="3" stroke-linecap="butt"/>
<polygon points="1385.0,804.0 1376.6,810.5 1374.4,803.8" fill="#ff0000"/>
<line x1="1385.0" y1="804.0" x2="1431.5" y2="839.0" stroke="#ff0000" stroke-width="3" stroke-linecap="butt"/>
<polygon points="1439.5,845.0 1429.1,842.2 1433.9,835.8" fill="#ff0000"/>
<g shape-rendering="crispEdges">
<rect x="7" y="636" width="1" height="40" fill="#c0c0c0"/>
<rect x="15" y="636" width="1" height="35" fill="#c0c0c0"/>
<rect x="23" y="636" width="1" height="38" fill="#c0c0c0"/>
<rect x="31" y="636" width="1" height="39" fill="#c0c0c0"/>
<rect x="39" y="636" width="1" height="39" fill="#c0c0c0"/>
<rect x="47" y="636" width="1" height="42" fill="#c0c0c0"/>
<rect x="55" y="636" width="1" height="50" fill="#c0c0c0"/>
<rect x="63" y="636" width="1" height="60" fill="#c0c0c0"/>
<rect x="71" y="636" width="1" height="69" fill="#c0c0c0"/>
<rect x="79" y="636" width="1" height="76" fill="#c0c0c0"/>
<rect x="87" y="636" width="1" height="82" fill="#c0c0c0"/>
<rect x="95" y="636" width="1" height="89" fill="#c0c0c0"/>
<rect x="103" y="636" width="1" height="98" fill="#c0c0c0"/>
<rect x="111" y="636" width="1" height="107" fill="#c0c0c0"/>
<rect x="119" y="636" width="1" height="109" fill="#c0c0c0"/>
<rect x="127" y="636" width="1" height="108" fill="#c0c0c0"/>
<rect x="135" y="636" width="1" height="104" fill="#c0c0c0"/>
<rect x="143" y="636" width="1" height="103" fill="#c0c0c0"/>
<rect x="151" y="636" width="1" height="105" fill="#c0c0c0"/>
<rect x="159" y="636" width="1" height="104" fill="#c0c0c0"/>
<rect x="167" y="636" width="1" height="100" fill="#c0c0c0"/>
<rect x="175" y="636" width="1" height="96" fill="#c0c0c0"/>
<rect x="183" y="636" width="1" height="89" fill="#c0c0c0"/>
<rect x="191" y="636" width="1" height="80" fill="#c0c0c0"/>
<rect x="199" y="636" width="1" height="78" fill="#c0c0c0"/>
<rect x="207" y="636" width="1" height="78" fill="#c0c0c0"/>
<rect x="215" y="636" width="1" height="76" fill="#c0c0c0"/>
<rect x="223" y="636" width="1" height="75" fill="#c0c0c0"/>
<rect x="231" y="636" width="1" height="76" fill="#c0c0c0"/>
<rect x="239" y="636" width="1" height="80" fill="#c0c0c0"/>
<rect x="247" y="636" width="1" height="69" fill="#c0c0c0"/>
<rect x="255" y="636" width="1" height="68" fill="#c0c0c0"/>
<rect x="263" y="636" width="1" height="60" fill="#c0c0c0"/>
<rect x="271" y="636" width="1" height="56" fill="#c0c0c0"/>
<rect x="279" y="636" width="1" height="51" fill="#c0c0c0"/>
<rect x="287" y="636" width="1" height="50" fill="#c0c0c0"/>
<rect x="295" y="636" width="1" height="49" fill="#c0c0c0"/>
<rect x="303" y="636" width="1" height="47" fill="#c0c0c0"/>
<rect x="311" y="636" width="1" height="48" fill="#c0c0c0"/>
<rect x="319" y="636" width="1" height="50" fill="#c0c0c0"/>
<rect x="327" y="636" width="1" height="52" fill="#c0c0c0"/>
<rect x="335" y="636" width="1" height="45" fill="#c0c0c0"/>
<rect x="343" y="636" width="1" height="39" fill="#c0c0c0"/>
<rect x="351" y="636" width="1" height="35" fill="#c0c0c0"/>
<rect x="359" y="636" width="1" height="29" fill="#c0c0c0"/>
<rect x="367" y="636" width="1" height="23" fill="#c0c0c0"/>
<rect x="375" y="636" width="1" height="15" fill="#c0c0c0"/>
<rect x="383" y="636" width="1" height="7" fill="#c0c0c0"/>
<rect x="391" y="636" width="1" height="6" fill="#c0c0c0"/>
<rect x="399" y="636" width="1" height="8" fill="#c0c0c0"/>
<rect x="407" y="636" width="1" height="9" fill="#c0c0c0"/>
<rect x="415" y="636" width="1" height="10" fill="#c0c0c0"/>
<rect x="423" y="636" width="1" height="12" fill="#c0c0c0"/>
<rect x="431" y="636" width="1" height="13" fill="#c0c0c0"/>
<rect x="439" y="636" width="1" height="14" fill="#c0c0c0"/>
<rect x="447" y="636" width="1" height="14" fill="#c0c0c0"/>
<rect x="455" y="636" width="1" height="12" fill="#c0c0c0"/>
<rect x="463" y="636" width="1" height="11" fill="#c0c0c0"/>
<rect x="471" y="636" width="1" height="5" fill="#c0c0c0"/>
<rect x="479" y="632" width="1" height="5" fill="#c0c0c0"/>
<rect x="487" y="621" width="1" height="16" fill="#c0c0c0"/>
<rect x="495" y="610" width="1" height="27" fill="#c0c0c0"/>
<rect x="503" y="600" width="1" height="37" fill="#c0c0c0"/>
<rect x="511" y="593" width="1" height="44" fill="#c0c0c0"/>
<rect x="519" y="592" width="1" height="45" fill="#c0c0c0"/>
<rect x="527" y="596" width="1" height="41" fill="#c0c0c0"/>
<rect x="535" y="599" width="1" height="38" fill="#c0c0c0"/>
<rect x="543" y="602" width="1" height="35" fill="#c0c0c0"/>
<rect x="551" y="604" width="1" height="33" fill="#c0c0c0"/>
<rect x="559" y="609" width="1" height="28" fill="#c0c0c0"/>
<rect x="567" y="616" width="1" height="21" fill="#c0c0c0"/>
<rect x="575" y="619" width="1" height="18" fill="#c0c0c0"/>
<rect x="583" y="622" width="1" height="15" fill="#c0c0c0"/>
<rect x="591" y="625" width="1" height="12" fill="#c0c0c0"/>
<rect x="599" y="634" width="1" height="3" fill="#c0c0c0"/>
<rect x="607" y="635" width="1" height="2" fill="#c0c0c0"/>
<rect x="615" y="636" width="1" height="10" fill="#c0c0c0"/>
<rect x="623" y="636" width="1" height="10" fill="#c0c0c0"/>
<rect x="631" y="636" width="1" height="10" fill="#c0c0c0"/>
<rect x="639" y="636" width="1" height="10" fill="#c0c0c0"/>
<rect x="647" y="636" width="1" height="9" fill="#c0c0c0"/>
<rect x="655" y="636" width="1" height="7" fill="#c0c0c0"/>
<rect x="663" y="636" width="1" height="11" fill="#c0c0c0"/>
<rect x="671" y="636" width="1" height="18" fill="#c0c0c0"/>
<rect x="679" y="636" width="1" height="24" fill="#c0c0c0"/>
<rect x="687" y="636" width="1" height="26" fill="#c0c0c0"/>
<rect x="695" y="636" width="1" height="30" fill="#c0c0c0"/>
<rect x="703" y="636" width="1" height="34" fill="#c0c0c0"/>
<rect x="711" y="636" width="1" height="33" fill="#c0c0c0"/>
<rect x="719" y="636" width="1" height="30" fill="#c0c0c0"/>
<rect x="727" y="636" width="1" height="26" fill="#c0c0c0"/>
<rect x="735" y="636" width="1" height="19" fill="#c0c0c0"/>
<rect x="743" y="636" width="1" height="11" fill="#c0c0c0"/>
<rect x="751" y="636" width="1" height="4" fill="#c0c0c0"/>
<rect x="759" y="635" width="1" height="2" fill="#c0c0c0"/>
<rect x="775" y="635" width="1" height="2" fill="#c0c0c0"/>
<rect x="783" y="636" width="1" height="10" fill="#c0c0c0"/>
<rect x="791" y="636" width="1" height="21" fill="#c0c0c0"/>
<rect x="799" y="636" width="1" height="30" fill="#c0c0c0"/>
<rect x="807" y="636" width="1" height="22" fill="#c0c0c0"/>
<rect x="815" y="636" width="1" height="14" fill="#c0c0c0"/>
<rect x="823" y="636" width="1" height="8" fill="#c0c0c0"/>
<rect x="831" y="635" width="1" height="2" fill="#c0c0c0"/>
<rect x="855" y="635" width="1" height="2" fill="#c0c0c0"/>
<rect x="919" y="636" width="1" height="5" fill="#c0c0c0"/>
<rect x="927" y="636" width="1" height="9" fill="#c0c0c0"/>
<rect x="935" y="636" width="1" height="14" fill="#c0c0c0"/>
<rect x="943" y="636" width="1" height="18" fill="#c0c0c0"/>
<rect x="951" y="636" width="1" height="17" fill="#c0c0c0"/>
<rect x="959" y="636" width="1" height="24" fill="#c0c0c0"/>
<rect x="967" y="636" width="1" height="36" fill="#c0c0c0"/>
<rect x="975" y="636" width="1" height="47" fill="#c0c0c0"/>
<rect x="983" y="636" width="1" height="56" fill="#c0c0c0"/>
<rect x="991" y="636" width="1" height="61" fill="#c0c0c0"/>
<rect x="999" y="636" width="1" height="65" fill="#c0c0c0"/>
<rect x="1007" y="636" width="1" height="69" fill="#c0c0c0"/>
<rect x="1015" y="636" width="1" height="71" fill="#c0c0c0"/>
<rect x="1023" y="636" width="1" height="76" fill="#c0c0c0"/>
<rect x="1031" y="636" width="1" height="75" fill="#c0c0c0"/>
<rect x="1039" y="636" width="1" height="74" fill="#c0c0c0"/>
<rect x="1047" y="636" width="1" height="74" fill="#c0c0c0"/>
<rect x="1055" y="636" width="1" height="75" fill="#c0c0c0"/>
<rect x="1063" y="636" width="1" height="75" fill="#c0c0c0"/>
<rect x="1071" y="636" width="1" height="74" fill="#c0c0c0"/>
<rect x="1079" y="636" width="1" height="74" fill="#c0c0c0"/>
<rect x="1087" y="636" width="1" height="71" fill="#c0c0c0"/>
<rect x="1095" y="636" width="1" height="67" fill="#c0c0c0"/>
<rect x="1103" y="636" width="1" height="63" fill="#c0c0c0"/>
<rect x="1111" y="636" width="1" height="59" fill="#c0c0c0"/>
<rect x="1119" y="636" width="1" height="52" fill="#c0c0c0"/>
<rect x="1127" y="636" width="1" height="47" fill="#c0c0c0"/>
<rect x="1135" y="636" width="1" height="43" fill="#c0c0c0"/>
<rect x="1143" y="636" width="1" height="42" fill="#c0c0c0"/>
<rect x="1151" y="636" width="1" height="47" fill="#c0c0c0"/>
<rect x="1159" y="636" width="1" height="46" fill="#c0c0c0"/>
<rect x="1167" y="636" width="1" height="42" fill="#c0c0c0"/>
<rect x="1175" y="636" width="1" height="45" fill="#c0c0c0"/>
<rect x="1183" y="636" width="1" height="48" fill="#c0c0c0"/>
<rect x="1191" y="636" width="1" height="51" fill="#c0c0c0"/>
<rect x="1199" y="636" width="1" height="47" fill="#c0c0c0"/>
<rect x="1207" y="636" width="1" height="40" fill="#c0c0c0"/>
<rect x="1215" y="636" width="1" height="35" fill="#c0c0c0"/>
<rect x="1223" y="636" width="1" height="29" fill="#c0c0c0"/>
<rect x="1231" y="636" width="1" height="22" fill="#c0c0c0"/>
<rect x="1239" y="636" width="1" height="16" fill="#c0c0c0"/>
<rect x="1247" y="636" width="1" height="13" fill="#c0c0c0"/>
<rect x="1255" y="636" width="1" height="10" fill="#c0c0c0"/>
<rect x="1263" y="636" width="1" height="4" fill="#c0c0c0"/>
<rect x="1287" y="635" width="1" height="2" fill="#c0c0c0"/>
<rect x="1295" y="636" width="1" height="4" fill="#c0c0c0"/>
<rect x="1303" y="636" width="1" height="5" fill="#c0c0c0"/>
<rect x="1311" y="636" width="1" height="5" fill="#c0c0c0"/>
<rect x="1319" y="636" width="1" height="5" fill="#c0c0c0"/>
<rect x="1327" y="636" width="1" height="4" fill="#c0c0c0"/>
<rect x="1335" y="636" width="1" height="3" fill="#c0c0c0"/>
<rect x="1343" y="636" width="1" height="3" fill="#c0c0c0"/>
<rect x="1351" y="635" width="1" height="2" fill="#c0c0c0"/>
<rect x="1359" y="632" width="1" height="5" fill="#c0c0c0"/>
<rect x="1367" y="625" width="1" height="12" fill="#c0c0c0"/>
<rect x="1375" y="618" width="1" height="19" fill="#c0c0c0"/>
<rect x="1383" y="612" width="1" height="25" fill="#c0c0c0"/>
<rect x="1391" y="607" width="1" height="30" fill="#c0c0c0"/>
<rect x="1399" y="603" width="1" height="34" fill="#c0c0c0"/>
<rect x="1407" y="601" width="1" height="36" fill="#c0c0c0"/>
<rect x="1415" y="603" width="1" height="34" fill="#c0c0c0"/>
<rect x="1423" y="607" width="1" height="30" fill="#c0c0c0"/>
</g>
<polyline points="0.5,683.5 23.5,680.5 37.5,678.5 54.5,678.5 64.5,679.5 72.5,682.5 80.5,685.5 90.5,692.5 100.5,700.5 110.5,710.5 120.5,719.5 130.5,727.5 140.5,733.5 150.5,738.5 160.5,740.5 174.5,740.5 184.5,737.5 194.5,732.5 207.5,727.5 221.5,722.5 234.5,717.5 247.5,713.5 264.5,710.5 281.5,704.5 297.5,697.5 314.5,690.5 327.5,687.5 344.5,684.5 361.5,679.5 378.5,672.5 394.5,662.5 408.5,654.5 421.5,649.5 434.5,647.5 451.5,646.5 468.5,647.5 481.5,645.5 495.5,637.5 508.5,629.5 521.5,618.5 535.5,610.5 548.5,603.5 558.5,601.5 568.5,601.5 580.5,605.5 587.5,608.5 603.5,617.5 620.5,626.5 637.5,634.5 654.5,641.5 670.5,645.5 687.5,650.5 704.5,655.5 720.5,660.5 734.5,663.5 744.5,661.5 760.5,656.5 774.5,650.5 787.5,647.5 804.5,646.5 821.5,647.5 834.5,648.5 851.5,647.5 864.5,645.5 874.5,640.5 887.5,638.5 904.5,637.5 918.5,637.5 934.5,639.5 948.5,643.5 958.5,645.5 968.5,649.5 978.5,656.5 991.5,665.5 1004.5,677.5 1018.5,687.5 1031.5,697.5 1045.5,703.5 1058.5,707.5 1071.5,709.5 1085.5,710.5 1095.5,710.5 1110.5,707.5 1130.5,701.5 1150.5,693.5 1170.5,685.5 1180.5,682.5 1190.5,683.5 1207.5,681.5 1224.5,679.5 1237.5,673.5 1250.5,667.5 1262.5,661.5 1274.5,654.5 1287.5,648.5 1301.5,643.5 1314.5,640.5 1331.5,639.5 1347.5,639.5 1364.5,638.5 1374.5,635.5 1384.5,632.5 1394.5,624.5 1404.5,618.5 1414.5,613.5 1424.5,608.5" fill="none" stroke="#ff0000" stroke-width="1" stroke-dasharray="2.5,2.5" shape-rendering="crispEdges"/>
<g shape-rendering="crispEdges">
<line x1="0" y1="790.5" x2="1689" y2="790.5" stroke="#c0c0c0" stroke-width="1" stroke-dasharray="3,3"/>
<line x1="0" y1="841.5" x2="1689" y2="841.5" stroke="#c0c0c0" stroke-width="1" stroke-dasharray="3,3"/>
<line x1="0" y1="902.5" x2="1689" y2="902.5" stroke="#c0c0c0" stroke-width="1" stroke-dasharray="3,3"/>
</g>
<polyline points="-0.5,863.5 7.5,848.5 15.5,844.5 23.5,862.5 31.5,862.5 39.5,859.5 47.5,872.5 55.5,877.5 63.5,882.5 71.5,886.5 79.5,887.5 87.5,889.5 95.5,891.5 103.5,896.5 111.5,899.5 119.5,882.5 127.5,881.5 135.5,868.5 143.5,875.5 151.5,881.5 159.5,875.5 167.5,866.5 175.5,867.5 183.5,859.5 191.5,854.5 199.5,864.5 207.5,867.5 215.5,868.5 223.5,869.5 231.5,872.5 239.5,878.5 247.5,847.5 255.5,859.5 263.5,848.5 271.5,849.5 279.5,849.5 287.5,855.5 295.5,857.5 303.5,852.5 311.5,861.5 319.5,863.5 327.5,862.5 335.5,847.5 343.5,843.5 351.5,847.5 359.5,842.5 367.5,837.5 375.5,832.5 383.5,828.5 391.5,843.5 399.5,847.5 407.5,848.5 415.5,851.5 423.5,852.5 431.5,851.5 439.5,844.5 447.5,852.5 455.5,846.5 463.5,842.5 471.5,829.5 479.5,818.5 487.5,812.5 495.5,808.5 503.5,806.5 511.5,807.5 519.5,822.5 527.5,836.5 535.5,832.5 543.5,837.5 551.5,833.5 559.5,840.5 567.5,848.5 575.5,842.5 583.5,843.5 591.5,842.5 599.5,859.5 607.5,858.5 615.5,862.5 623.5,843.5 631.5,848.5 639.5,845.5 647.5,843.5 655.5,844.5 663.5,855.5 671.5,863.5 679.5,865.5 687.5,860.5 695.5,866.5 703.5,866.5 711.5,854.5 719.5,850.5 727.5,845.5 735.5,832.5 743.5,828.5 751.5,827.5 759.5,823.5 767.5,848.5 775.5,846.5 783.5,860.5 791.5,868.5 799.5,870.5 807.5,838.5 815.5,834.5 823.5,831.5 831.5,836.5 839.5,838.5 847.5,841.5 855.5,840.5 863.5,844.5 871.5,842.5 879.5,844.5 887.5,843.5 895.5,846.5 903.5,839.5 911.5,844.5 919.5,852.5 927.5,857.5 935.5,862.5 943.5,863.5 951.5,848.5 959.5,867.5 967.5,875.5 975.5,879.5 983.5,881.5 991.5,875.5 999.5,877.5 1007.5,881.5 1015.5,878.5 1023.5,883.5 1031.5,869.5 1039.5,871.5 1047.5,874.5 1055.5,876.5 1063.5,876.5 1071.5,878.5 1079.5,880.5 1087.5,871.5 1095.5,871.5 1103.5,862.5 1111.5,862.5 1119.5,852.5 1127.5,853.5 1135.5,857.5 1143.5,868.5 1151.5,875.5 1159.5,861.5 1167.5,865.5 1175.5,870.5 1183.5,876.5 1191.5,876.5 1199.5,848.5 1207.5,845.5 1215.5,841.5 1223.5,836.5 1231.5,847.5 1239.5,843.5 1247.5,839.5 1255.5,831.5 1263.5,827.5 1271.5,833.5 1279.5,843.5 1287.5,838.5 1295.5,851.5 1303.5,848.5 1311.5,849.5 1319.5,842.5 1327.5,846.5 1335.5,837.5 1343.5,839.5 1351.5,832.5 1359.5,830.5 1367.5,818.5 1375.5,814.5 1383.5,813.5 1391.5,803.5 1399.5,819.5 1407.5,820.5 1415.5,823.5 1423.5,843.5" fill="none" stroke="#1e90ff" stroke-width="1" shape-rendering="crispEdges"/>
<g shape-rendering="crispEdges">
<rect x="0" y="27" width="1690" height="1" fill="#000"/>
<rect x="1689" y="27" width="1" height="554" fill="#000"/>
<rect x="0" y="580" width="1690" height="1" fill="#000"/>
<rect x="0" y="582" width="1690" height="1" fill="#000"/>
<rect x="1689" y="582" width="1" height="171" fill="#000"/>
<rect x="0" y="752" width="1690" height="1" fill="#000"/>
<rect x="0" y="754" width="1690" height="1" fill="#000"/>
<rect x="1689" y="754" width="1" height="175" fill="#000"/>
<rect x="0" y="928" width="1690" height="1" fill="#000"/>
<rect x="1735" y="25" width="1" height="921" fill="#e3e3e3"/>
<rect x="1690" y="49" width="3" height="1" fill="#000"/>
<rect x="1690" y="81" width="3" height="1" fill="#000"/>
<rect x="1690" y="115" width="3" height="1" fill="#000"/>
<rect x="1690" y="148" width="3" height="1" fill="#000"/>
<rect x="1690" y="181" width="3" height="1" fill="#000"/>
<rect x="1690" y="214" width="3" height="1" fill="#000"/>
<rect x="1690" y="247" width="3" height="1" fill="#000"/>
<rect x="1690" y="280" width="3" height="1" fill="#000"/>
<rect x="1690" y="313" width="3" height="1" fill="#000"/>
<rect x="1690" y="346" width="3" height="1" fill="#000"/>
<rect x="1690" y="379" width="3" height="1" fill="#000"/>
<rect x="1690" y="412" width="3" height="1" fill="#000"/>
<rect x="1690" y="445" width="3" height="1" fill="#000"/>
<rect x="1690" y="478" width="3" height="1" fill="#000"/>
<rect x="1690" y="511" width="3" height="1" fill="#000"/>
<rect x="1690" y="544" width="3" height="1" fill="#000"/>
<rect x="1690" y="577" width="3" height="1" fill="#000"/>
<rect x="1690" y="584" width="2" height="1" fill="#000"/>
<rect x="1690" y="636" width="2" height="1" fill="#000"/>
<rect x="1690" y="751" width="2" height="1" fill="#000"/>
<rect x="1690" y="756" width="2" height="1" fill="#000"/>
<rect x="1690" y="790" width="2" height="1" fill="#000"/>
<rect x="1690" y="841" width="2" height="1" fill="#000"/>
<rect x="1690" y="902" width="2" height="1" fill="#000"/>
<rect x="1690" y="927" width="2" height="1" fill="#000"/>
<rect x="63" y="929" width="1" height="3" fill="#000"/>
<rect x="127" y="929" width="1" height="3" fill="#000"/>
<rect x="191" y="929" width="1" height="3" fill="#000"/>
<rect x="255" y="929" width="1" height="3" fill="#000"/>
<rect x="319" y="929" width="1" height="3" fill="#000"/>
<rect x="383" y="929" width="1" height="3" fill="#000"/>
<rect x="447" y="929" width="1" height="3" fill="#000"/>
<rect x="511" y="929" width="1" height="3" fill="#000"/>
<rect x="575" y="929" width="1" height="3" fill="#000"/>
<rect x="639" y="929" width="1" height="3" fill="#000"/>
<rect x="703" y="929" width="1" height="3" fill="#000"/>
<rect x="767" y="929" width="1" height="3" fill="#000"/>
<rect x="831" y="929" width="1" height="3" fill="#000"/>
<rect x="895" y="929" width="1" height="3" fill="#000"/>
<rect x="959" y="929" width="1" height="3" fill="#000"/>
<rect x="1023" y="929" width="1" height="3" fill="#000"/>
<rect x="1087" y="929" width="1" height="3" fill="#000"/>
<rect x="1151" y="929" width="1" height="3" fill="#000"/>
<rect x="1215" y="929" width="1" height="3" fill="#000"/>
<rect x="1279" y="929" width="1" height="3" fill="#000"/>
<rect x="1343" y="929" width="1" height="3" fill="#000"/>
<rect x="1407" y="929" width="1" height="3" fill="#000"/>
</g>
<text transform="translate(1695,53) scale(0.955,1)" font-size="9.5" fill="#000" text-anchor="start" font-weight="normal" >0.94740</text>
<text transform="translate(1695,85) scale(0.955,1)" font-size="9.5" fill="#000" text-anchor="start" font-weight="normal" >0.94290</text>
<text transform="translate(1695,119) scale(0.955,1)" font-size="9.5" fill="#000" text-anchor="start" font-weight="normal" >0.93830</text>
<text transform="translate(1695,152) scale(0.955,1)" font-size="9.5" fill="#000" text-anchor="start" font-weight="normal" >0.93370</text>
<text transform="translate(1695,185) scale(0.955,1)" font-size="9.5" fill="#000" text-anchor="start" font-weight="normal" >0.92910</text>
<text transform="translate(1695,218) scale(0.955,1)" font-size="9.5" fill="#000" text-anchor="start" font-weight="normal" >0.92460</text>
<text transform="translate(1695,251) scale(0.955,1)" font-size="9.5" fill="#000" text-anchor="start" font-weight="normal" >0.92000</text>
<text transform="translate(1695,284) scale(0.955,1)" font-size="9.5" fill="#000" text-anchor="start" font-weight="normal" >0.91540</text>
<text transform="translate(1695,317) scale(0.955,1)" font-size="9.5" fill="#000" text-anchor="start" font-weight="normal" >0.91080</text>
<text transform="translate(1695,350) scale(0.955,1)" font-size="9.5" fill="#000" text-anchor="start" font-weight="normal" >0.90630</text>
<text transform="translate(1695,383) scale(0.955,1)" font-size="9.5" fill="#000" text-anchor="start" font-weight="normal" >0.90170</text>
<text transform="translate(1695,416) scale(0.955,1)" font-size="9.5" fill="#000" text-anchor="start" font-weight="normal" >0.89710</text>
<text transform="translate(1695,449) scale(0.955,1)" font-size="9.5" fill="#000" text-anchor="start" font-weight="normal" >0.89250</text>
<text transform="translate(1695,482) scale(0.955,1)" font-size="9.5" fill="#000" text-anchor="start" font-weight="normal" >0.88800</text>
<text transform="translate(1695,515) scale(0.955,1)" font-size="9.5" fill="#000" text-anchor="start" font-weight="normal" >0.88340</text>
<text transform="translate(1695,548) scale(0.955,1)" font-size="9.5" fill="#000" text-anchor="start" font-weight="normal" >0.87880</text>
<text transform="translate(1695,581) scale(0.955,1)" font-size="9.5" fill="#000" text-anchor="start" font-weight="normal" >0.87420</text>
<rect x="1691" y="387" width="41" height="11" fill="#ff0000" shape-rendering="crispEdges"/>
<text transform="translate(1695,396) scale(0.955,1)" font-size="9.5" fill="#fff" text-anchor="start" font-weight="normal" >0.89978</text>
<rect x="1691" y="410" width="41" height="11" fill="#ff0000" shape-rendering="crispEdges"/>
<text transform="translate(1695,419) scale(0.955,1)" font-size="9.5" fill="#fff" text-anchor="start" font-weight="normal" >0.89660</text>
<rect x="1691" y="425" width="41" height="11" fill="#ffa500" shape-rendering="crispEdges"/>
<text transform="translate(1695,434) scale(0.955,1)" font-size="9.5" fill="#fff" text-anchor="start" font-weight="normal" >0.89452</text>
<rect x="1691" y="443" width="41" height="11" fill="#000000" shape-rendering="crispEdges"/>
<text transform="translate(1695,452) scale(0.955,1)" font-size="9.5" fill="#fff" text-anchor="start" font-weight="normal" >0.89213</text>
<rect x="1691" y="460" width="41" height="11" fill="#0000ff" shape-rendering="crispEdges"/>
<text transform="translate(1695,469) scale(0.955,1)" font-size="9.5" fill="#fff" text-anchor="start" font-weight="normal" >0.88968</text>
<rect x="1691" y="483" width="41" height="11" fill="#0000ff" shape-rendering="crispEdges"/>
<text transform="translate(1695,492) scale(0.955,1)" font-size="9.5" fill="#fff" text-anchor="start" font-weight="normal" >0.88649</text>
<text transform="translate(1693,593) scale(0.955,1)" font-size="9.5" fill="#000" text-anchor="start" font-weight="normal" >0.004351</text>
<text transform="translate(1693,640) scale(0.955,1)" font-size="9.5" fill="#000" text-anchor="start" font-weight="normal" >0.00</text>
<text transform="translate(1693,749) scale(0.955,1)" font-size="9.5" fill="#000" text-anchor="start" font-weight="normal" >-0.009504</text>
<text transform="translate(1693.5,765) scale(0.955,1)" font-size="9.5" fill="#000" text-anchor="start" font-weight="normal" >100</text>
<text transform="translate(1693.5,794) scale(0.955,1)" font-size="9.5" fill="#000" text-anchor="start" font-weight="normal" >80</text>
<text transform="translate(1693.5,845) scale(0.955,1)" font-size="9.5" fill="#000" text-anchor="start" font-weight="normal" >50</text>
<text transform="translate(1693.5,906) scale(0.955,1)" font-size="9.5" fill="#000" text-anchor="start" font-weight="normal" >15</text>
<text transform="translate(1693.5,925) scale(0.955,1)" font-size="9.5" fill="#000" text-anchor="start" font-weight="normal" >0</text>
<text transform="translate(-1.5,941) scale(0.955,1)" font-size="9.5" fill="#000" text-anchor="start" font-weight="normal" >14 Jul 2020</text>
<text transform="translate(62.5,941) scale(0.955,1)" font-size="9.5" fill="#000" text-anchor="start" font-weight="normal" >23 Jul 2020</text>
<text transform="translate(126.5,941) scale(0.985,1)" font-size="9.5" fill="#000" text-anchor="start" font-weight="normal" >2 Aug 2020</text>
<text transform="translate(190.5,941) scale(0.985,1)" font-size="9.5" fill="#000" text-anchor="start" font-weight="normal" >11 Aug 2020</text>
<text transform="translate(254.5,941) scale(0.985,1)" font-size="9.5" fill="#000" text-anchor="start" font-weight="normal" >20 Aug 2020</text>
<text transform="translate(318.5,941) scale(0.985,1)" font-size="9.5" fill="#000" text-anchor="start" font-weight="normal" >30 Aug 2020</text>
<text transform="translate(382.5,941) scale(0.955,1)" font-size="9.5" fill="#000" text-anchor="start" font-weight="normal" >8 Sep 2020</text>
<text transform="translate(446.5,941) scale(0.955,1)" font-size="9.5" fill="#000" text-anchor="start" font-weight="normal" >17 Sep 2020</text>
<text transform="translate(510.5,941) scale(0.955,1)" font-size="9.5" fill="#000" text-anchor="start" font-weight="normal" >27 Sep 2020</text>
<text transform="translate(574.5,941) scale(0.955,1)" font-size="9.5" fill="#000" text-anchor="start" font-weight="normal" >6 Oct 2020</text>
<text transform="translate(638.5,941) scale(0.955,1)" font-size="9.5" fill="#000" text-anchor="start" font-weight="normal" >15 Oct 2020</text>
<text transform="translate(702.5,941) scale(0.955,1)" font-size="9.5" fill="#000" text-anchor="start" font-weight="normal" >25 Oct 2020</text>
<text transform="translate(766.5,941) scale(0.955,1)" font-size="9.5" fill="#000" text-anchor="start" font-weight="normal" >3 Nov 2020</text>
<text transform="translate(830.5,941) scale(0.955,1)" font-size="9.5" fill="#000" text-anchor="start" font-weight="normal" >12 Nov 2020</text>
<text transform="translate(894.5,941) scale(0.955,1)" font-size="9.5" fill="#000" text-anchor="start" font-weight="normal" >22 Nov 2020</text>
<text transform="translate(958.5,941) scale(0.955,1)" font-size="9.5" fill="#000" text-anchor="start" font-weight="normal" >1 Dec 2020</text>
<text transform="translate(1022.5,941) scale(0.955,1)" font-size="9.5" fill="#000" text-anchor="start" font-weight="normal" >10 Dec 2020</text>
<text transform="translate(1086.5,941) scale(0.955,1)" font-size="9.5" fill="#000" text-anchor="start" font-weight="normal" >20 Dec 2020</text>
<text transform="translate(1150.5,941) scale(0.955,1)" font-size="9.5" fill="#000" text-anchor="start" font-weight="normal" >30 Dec 2020</text>
<text transform="translate(1214.5,941) scale(0.955,1)" font-size="9.5" fill="#000" text-anchor="start" font-weight="normal" >10 Jan 2021</text>
<text transform="translate(1278.5,941) scale(0.955,1)" font-size="9.5" fill="#000" text-anchor="start" font-weight="normal" >19 Jan 2021</text>
<text transform="translate(1342.5,941) scale(0.955,1)" font-size="9.5" fill="#000" text-anchor="start" font-weight="normal" >28 Jan 2021</text>
<text transform="translate(1406.5,941) scale(0.955,1)" font-size="9.5" fill="#000" text-anchor="start" font-weight="normal" >7 Feb 2021</text>
<text transform="translate(3.5,595) scale(0.982,1)" font-size="9.5" fill="#000" text-anchor="start" font-weight="normal" >MACD(12,26,9) 0.002626 0.002196</text>
<text transform="translate(3.5,767) scale(0.97,1)" font-size="9.5" fill="#000" text-anchor="start" font-weight="normal" >RSI(14) 49.1469</text>
<polygon points="2,38 9,38 5.5,34" fill="#000"/>
<text transform="translate(14.3,39) scale(0.99,1)" font-size="9.8" fill="#000" text-anchor="start" font-weight="normal" >USDCHF-,Daily</text>
<text transform="translate(88.3,39) scale(0.937,1)" font-size="9.8" fill="#000" text-anchor="start" font-weight="normal" >0.89860 0.89874 0.89186 0.89213</text>
</svg>
<svg id="tb" width="1736" height="27" viewBox="0 0 1736 27">
<defs>
<linearGradient id="gold" x1="0" y1="0" x2="1" y2="1"><stop offset="0" stop-color="#ffe27a"/><stop offset="0.5" stop-color="#e9b52e"/><stop offset="1" stop-color="#a87412"/></linearGradient>
<linearGradient id="grn" x1="0" y1="0" x2="0" y2="1"><stop offset="0" stop-color="#6cf57c"/><stop offset="0.5" stop-color="#12e83a"/><stop offset="1" stop-color="#06b016"/></linearGradient>
<linearGradient id="blu" x1="0" y1="0" x2="0" y2="1"><stop offset="0" stop-color="#5aa9ee"/><stop offset="1" stop-color="#1e5fc4"/></linearGradient>
<radialGradient id="lens" cx="0.4" cy="0.35" r="0.7"><stop offset="0" stop-color="#ffffff"/><stop offset="1" stop-color="#bcdcf7"/></radialGradient>
<linearGradient id="clk" x1="0" y1="0" x2="0.6" y2="1"><stop offset="0" stop-color="#4b93ea"/><stop offset="1" stop-color="#0d47b0"/></linearGradient><linearGradient id="badge" x1="0" y1="0" x2="0" y2="1"><stop offset="0" stop-color="#ea5535"/><stop offset="1" stop-color="#d4200f"/></linearGradient>
<g id="axes" fill="none" stroke="#505050" stroke-width="1.2"><path d="M2.5 14.5V1.5M0 12.5H14"/><path d="M0.8 3.5L2.5 1L4.2 3.5M11.5 10.8L14 12.5L11.5 14.2" stroke-width="1"/></g>
<g id="dd"><polygon points="0,0 5.6,0 2.8,3" fill="#111"/></g>
<g id="grip" fill="#b0b0b0"><rect x="0" y="1" width="3" height="1"/><rect x="0" y="3" width="3" height="1"/><rect x="0" y="5" width="3" height="1"/><rect x="0" y="7" width="3" height="1"/><rect x="0" y="9" width="3" height="1"/><rect x="0" y="11" width="3" height="1"/><rect x="0" y="13" width="3" height="1"/><rect x="0" y="15" width="3" height="1"/><rect x="0" y="17" width="3" height="1"/><rect x="0" y="19" width="3" height="1"/></g>
<g id="plus"><path d="M4.3 0.4H7.6V4.1H11.5V7.4H7.6V11.3H4.3V7.4H0.4V4.1H4.3Z" fill="url(#grn)" stroke="#078407" stroke-width="0.9"/></g>
<g id="sep"><rect x="0" y="0" width="1" height="21" fill="#a6a6a6"/></g>
</defs>
<rect x="0" y="0" width="1736" height="22" fill="#f0f0f0"/>
<rect x="0" y="22" width="1736" height="1" fill="#e4e4e4"/>
<rect x="0" y="23" width="1736" height="1" fill="#bcbcbc"/>
<rect x="0" y="24" width="1736" height="1" fill="#7e7e7e"/>
<rect x="0" y="25" width="1736" height="2" fill="#ffffff"/>
<!-- active backgrounds -->
<g fill="#f9f9f9"><rect x="325" y="0" width="24" height="21"/><rect x="477" y="0" width="24" height="21"/><rect x="505" y="0" width="24" height="21"/><rect x="665" y="0" width="24" height="21"/><rect x="1139" y="0" width="24" height="21"/></g>
<!-- 1 list icon -->
<rect x="-3" y="4.5" width="15" height="12.5" rx="1.5" fill="#fff" stroke="#3b7dc9" stroke-width="1.6"/>
<g stroke="#d9e7f8" stroke-width="1"><path d="M4 7.5H11M4 10H11M4 12.5H11M4 15H11" /></g>
<rect x="1.5" y="6.8" width="1.4" height="1.4" fill="#e00"/><rect x="1.5" y="9.3" width="1.4" height="1.4" fill="#222"/><rect x="1.5" y="11.8" width="1.4" height="1.4" fill="#222"/><rect x="1.5" y="14.3" width="1.4" height="1.4" fill="#e00"/>
<!-- 2 chart magnifier -->
<rect x="25.7" y="3.6" width="11.6" height="12.4" fill="#fafafa" stroke="#b4a78f" stroke-width="1"/>
<path d="M28.5 6v5M31 5v8M34.5 6v6" stroke="#777" stroke-width="1" fill="none"/>
<path d="M37 15.5L42 20" stroke="#c9981c" stroke-width="2.6" stroke-linecap="round"/>
<circle cx="33.4" cy="11.7" r="4.8" fill="url(#lens)" fill-opacity="0.85" stroke="#5b93d6" stroke-width="1.3"/>
<use href="#sep" x="50" y="0"/>
<!-- 3 new order -->
<path d="M60.7 3.7H68.4L71.6 6.9V16.3H60.7Z" fill="#fdfdfd" stroke="#747474" stroke-width="1"/>
<path d="M68.4 3.7V6.9H71.6" fill="none" stroke="#747474" stroke-width="0.9"/>
<path d="M62.5 6h3M62.5 9h6M62.5 11.5h5M62.5 14h3" stroke="#8a8a8a" stroke-width="1"/>
<use href="#plus" x="64.3" y="9.2"/>
<text x="79" y="14.9" font-size="12" fill="#000">新订单</text>
<!-- 4 gold book -->
<path d="M127.2 13.5L133.5 4.2L142 9.5L136.5 18.5Z" fill="url(#gold)" stroke="#9a6a10" stroke-width="0.8"/>
<path d="M127.2 13.5L136.5 18.5L137.3 19.6L128 15Z" fill="#8a5a0c"/>
<path d="M136.5 18.5L142 9.5L142.3 11L137.3 19.6Z" fill="#c08a1a"/>
<!-- 5 cloud server -->
<path d="M157.5 4.5L163 3L168 4.2V12H157.5Z" fill="url(#blu)" stroke="#2a62b8" stroke-width="0.7"/>
<path d="M159.5 5V11" stroke="#cfe6fb" stroke-width="1"/><path d="M162 7.5H166.5" stroke="#e8f3fd" stroke-width="1.2"/>
<path d="M158.2 18.3C154.8 18.3 154.4 14 157.6 13.6C158 10.6 162 10.2 163.4 12.4C165.4 10.8 168.8 11.8 168.6 14.2C172 14 172 18.3 168.8 18.3Z" fill="#f4f8fd" stroke="#7f9cc4" stroke-width="0.9"/>
<!-- 6 signal -->
<g fill="none" stroke-width="1.3"><path d="M191 2.6A7.8 7.8 0 0 0 191 18.2" stroke="#4c7fd6"/><path d="M191 5.2A5.2 5.2 0 0 0 191 15.6" stroke="#6e9ae0"/><path d="M191 2.6A7.8 7.8 0 0 1 191 18.2" stroke="#63b56b"/><path d="M191 5.2A5.2 5.2 0 0 1 191 15.6" stroke="#8ccb92"/></g>
<path d="M191 10.4L192.4 2.8A7.8 7.8 0 0 1 191 18.2Z" fill="#8fd498" fill-opacity="0.45"/><circle cx="191" cy="10.4" r="1.8" fill="#2a5fd0"/><path d="M191.4 10.4V18" stroke="#1f9d2a" stroke-width="1.4"/>
<!-- 7 auto trade -->
<path d="M211.5 9.5L225 9.5L219 18.5Z" fill="#f7d64a" stroke="#c79a14" stroke-width="0.8"/>
<ellipse cx="218" cy="8.3" rx="7.6" ry="2.6" fill="#4f97dc" stroke="#2d6cb8" stroke-width="0.7"/>
<path d="M214.2 7.8C214.2 2.6 221.8 2.6 221.8 7.8Z" fill="#62a8ea" stroke="#2d6cb8" stroke-width="0.7"/>
<circle cx="222.3" cy="14.9" r="4" fill="#d9230f" stroke="#b51a0a" stroke-width="0.6"/><rect x="220.7" y="13.3" width="3.2" height="3.2" fill="#fff"/>
<text x="231.3" y="14.8" font-size="11.8" fill="#000">自动交易</text>
<rect x="286" y="0" width="1" height="22" fill="#a0a0a0"/><rect x="287" y="0" width="1" height="22" fill="#fff"/>
<use href="#grip" x="290" y="0"/>
<!-- bar chart icon -->
<use href="#axes" x="302" y="4"/>
<path d="M310.5 7V15M310.5 7.5H313M308.3 13.5H310.5" stroke="#139a13" stroke-width="1.4" fill="none"/>
<use href="#sep" x="324" y="0"/>
<use href="#axes" x="330" y="4"/>
<path d="M338.5 3V15" stroke="#139a13" stroke-width="1.2"/><rect x="336.3" y="5.3" width="4.4" height="7.6" fill="#2fd42f" stroke="#139a13" stroke-width="0.8"/>
<use href="#axes" x="358" y="4"/>
<path d="M359 14C362 12 363 8 365.5 8C367.5 8 368.5 11 371.5 12" stroke="#2c9e3a" stroke-width="1.2" fill="none"/>
<use href="#sep" x="381" y="0"/>
<!-- zoom in/out -->
<path d="M400.5 13.2L405 17.6" stroke="#d4a81e" stroke-width="2.4" stroke-linecap="round"/>
<circle cx="396.1" cy="8.8" r="5.6" fill="url(#lens)" stroke="#3f80cf" stroke-width="1.4"/>
<path d="M393 8.8H399.2M396.1 5.7V11.9" stroke="#2f6fc2" stroke-width="1.6"/>
<path d="M428.6 13.2L433.1 17.6" stroke="#d4a81e" stroke-width="2.4" stroke-linecap="round"/>
<circle cx="424.2" cy="8.8" r="5.6" fill="url(#lens)" stroke="#3f80cf" stroke-width="1.4"/>
<path d="M421.1 8.8H427.3" stroke="#2f6fc2" stroke-width="1.6"/>
<!-- tile -->
<rect x="446" y="3.2" width="8" height="7.8" fill="#3aa537"/><rect x="454" y="3.2" width="8" height="7.8" fill="#2b63d1"/><rect x="446" y="11" width="8" height="7.8" fill="#2b63d1"/><rect x="454" y="11" width="8" height="7.8" fill="#3aa537"/>
<g fill="#e9f4e9"><rect x="447.5" y="6.5" width="5" height="3.4"/><rect x="455.5" y="14.3" width="5" height="3.4"/></g><g fill="#e6eefc"><rect x="455.5" y="6.5" width="5" height="3.4"/><rect x="447.5" y="14.3" width="5" height="3.4"/></g>
<use href="#sep" x="471" y="0"/><use href="#sep" x="476" y="0"/>
<use href="#axes" x="482" y="4"/><polygon points="489.2,7.5 489.2,14 493.2,10.7" fill="#4fd24f" stroke="#139a13" stroke-width="0.9"/>
<use href="#sep" x="504" y="0"/>
<use href="#axes" x="510" y="4"/><path d="M518.6 5V15" stroke="#2b6fb8" stroke-width="1.2"/><path d="M524 10.4H520M521.8 8.6L519.6 10.4L521.8 12.2" stroke="#d43a10" stroke-width="1.1" fill="none"/>
<use href="#sep" x="533" y="0"/>
<!-- new chart -->
<path d="M543.7 3.7H551.2L554.4 6.9V16.3H543.7Z" fill="#fdfdfd" stroke="#747474" stroke-width="1"/><path d="M551.2 3.7V6.9H554.4" fill="none" stroke="#747474" stroke-width="0.9"/><path d="M546.5 7C545.5 9 545.5 11 546.5 13" stroke="#8a8a8a" stroke-width="1" fill="none"/>
<use href="#plus" x="547.1" y="9.2"/>
<use href="#dd" x="565" y="10"/>
<!-- clock -->
<circle cx="588.8" cy="10.7" r="6.7" fill="#fdfdfd" stroke="url(#clk)" stroke-width="2.8"/><g fill="#9ab"><rect x="588.4" y="5.6" width="0.8" height="1"/><rect x="588.4" y="14.8" width="0.8" height="1"/><rect x="583.7" y="10.3" width="1" height="0.8"/><rect x="592.9" y="10.3" width="1" height="0.8"/></g><path d="M588.8 6.2V10.9H591.8" stroke="#333" stroke-width="1.2" fill="none"/>
<use href="#dd" x="603.6" y="10"/>
<!-- template -->
<rect x="620.7" y="4.5" width="14.8" height="12.8" fill="#fff" stroke="#2f6fc6" stroke-width="1.2"/><rect x="620.7" y="4.5" width="14.8" height="2" fill="#4a8ae0"/><path d="M621 11.8H635.2" stroke="#2f6fc6" stroke-width="1"/>
<path d="M622.5 10L625 9L627 8L629 9L631 8.5L633.5 8" stroke="#b3200e" stroke-width="1.2" fill="none"/><path d="M622.5 15.5L625 14.5L627 15L629.5 13.5L631.5 14.5L633.5 15.5" stroke="#1e9a2a" stroke-width="1.2" fill="none"/>
<use href="#dd" x="642.6" y="10"/>
<rect x="654" y="0" width="1" height="22" fill="#a0a0a0"/><rect x="655" y="0" width="1" height="22" fill="#fff"/>
<use href="#grip" x="658" y="0"/>
<use href="#sep" x="664" y="0"/>
<path d="M672.3 3.8V15.2L675 12.6L677.2 17.8L678.8 17.1L676.6 12L680 11.6Z" fill="#505050"/>
<path d="M697 11.3H712M704.5 4V19" stroke="#505050" stroke-width="1.3"/>
<use href="#sep" x="721" y="0"/>
<path d="M738.5 5V18" stroke="#505050" stroke-width="1.3"/>
<path d="M761 11.3H773" stroke="#505050" stroke-width="1.3"/>
<path d="M788.6 18L801 5.8" stroke="#505050" stroke-width="1.2"/>
<path d="M815 13L825 5.5M817 16L827 8.5M819 18L829 10.5M818 11V17M821.5 8.5V15M825 6V12.5" stroke="#505050" stroke-width="0.9" fill="none"/>
<text x="826" y="20" font-size="6.5" font-weight="bold" fill="#333">E</text>
<g stroke="#555" stroke-width="1" stroke-dasharray="1,1"><path d="M844 4.5H857.5M844 7.5H857.5M844 11.5H857.5M844 15.5H853"/></g>
<text x="854" y="20" font-size="6.5" font-weight="bold" fill="#333">F</text>
<text x="874.3" y="16" font-size="12.5" font-weight="bold" fill="#5a5a5a">A</text>
<rect x="901.3" y="5.3" width="11.4" height="12.2" fill="none" stroke="#555" stroke-width="1" stroke-dasharray="1,1"/>
<text x="903.2" y="15.8" font-size="10.5" font-weight="bold" fill="#555">T</text>
<polygon points="928.2,7.6 931.5,4.9 934.9,7.6 931.5,10" fill="#505050"/><polygon points="935.3,15.2 938.6,12.6 942,15.2 938.6,18" fill="#505050"/><path d="M930 12.5L932.8 14.6L937 9.2" stroke="#505050" stroke-width="1.3" fill="none"/>
<use href="#dd" x="948.8" y="10"/>
<rect x="960" y="0" width="1" height="22" fill="#a0a0a0"/><rect x="961" y="0" width="1" height="22" fill="#fff"/>
<use href="#grip" x="964" y="0"/>
<g font-size="10" fill="#3a3a3a" text-anchor="middle" transform="translate(0,0.5)">
<text x="982" y="15">M1</text><text x="1010" y="15">M5</text><text x="1038.3" y="15">M15</text><text x="1066.5" y="15">M30</text><text x="1094" y="15">H1</text><text x="1121.6" y="15">H4</text><text x="1150" y="15">D1</text><text x="1179" y="15">W1</text><text x="1206" y="15">MN</text>
</g>
<use href="#sep" x="1138" y="0"/>
<rect x="1221" y="0" width="1" height="22" fill="#a6a6a6"/>
<!-- search -->
<path d="M1688.6 11.4L1684.2 15.8" stroke="#2a62d8" stroke-width="2.2" stroke-linecap="round"/>
<circle cx="1691.5" cy="8.5" r="3.9" fill="#fdfdff" stroke="#2a62d8" stroke-width="1.3"/>
<!-- bubble + badge -->
<path d="M1708.5 12.8C1708.5 6.5 1720 6.5 1720 12.8C1720 16.2 1716 17.3 1713.2 17L1711.3 19.3L1711.4 16.6C1709.6 16 1708.5 14.6 1708.5 12.8Z" fill="#e9e9ee" stroke="#b9b9b9" stroke-width="0.8"/>
<circle cx="1722.4" cy="8.3" r="8.2" fill="url(#badge)"/>
<text x="1722.3" y="13" font-size="13" fill="#fff" text-anchor="middle">1</text>
</svg>

<div id="wg">
<div class="tab" style="left:2px;width:52px;"><span>SELL</span></div>
<div class="tab" style="left:170px;width:51px;"><span>BUY</span></div>
<div class="blk" style="left:2px;width:109px;"></div>
<div class="blk" style="left:113px;width:108px;"></div>
<div class="hl" style="left:6px;width:44px;"></div>
<div class="hl" style="left:173px;width:44px;"></div>
<div class="inp"><div class="b" style="left:1px;"><i class="dn"></i></div><div class="b" style="right:1px;"><i class="up"></i></div><span class="v">1.00</span></div>
<span class="s" style="left:21.5px;">0.89</span><span class="L" style="left:49px;">21</span><span class="p" style="left:89.5px;">3</span>
<span class="s" style="left:131.5px;">0.89</span><span class="L" style="left:159.5px;">25</span><span class="p" style="left:200.5px;">2</span>
</div>

</body></html>
